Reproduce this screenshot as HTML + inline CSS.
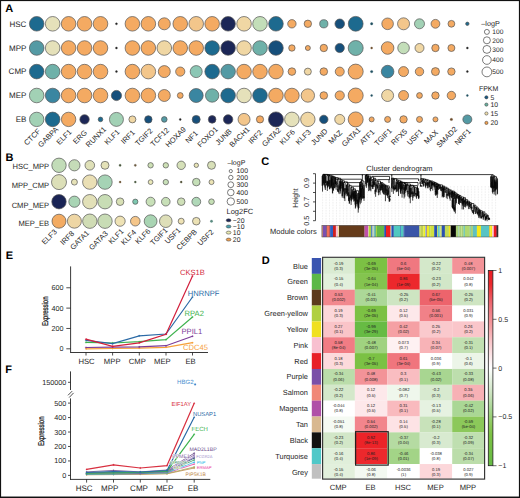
<!DOCTYPE html>
<html><head><meta charset="utf-8"><style>
html,body{margin:0;padding:0;background:#fff;}
body{width:520px;height:498px;overflow:hidden;}
svg{display:block;}
text{font-family:"Liberation Sans", sans-serif;text-rendering:geometricPrecision;}
</style></head><body>
<svg width="520" height="498" viewBox="0 0 520 498">
<rect x="0" y="0" width="520" height="498" fill="#fff"/>
<text x="5.2" y="12.4" font-size="11" text-anchor="start" fill="#000" font-weight="bold">A</text>
<text x="26.4" y="26.5" font-size="8" text-anchor="end" fill="#262626">HSC</text>
<circle cx="36.7" cy="23.8" r="7.3" fill="#1d6a8f" stroke="#555" stroke-width="0.7"/>
<circle cx="52.65" cy="23.8" r="7.3" fill="#e5e1ba" stroke="#555" stroke-width="0.7"/>
<circle cx="68.6" cy="23.8" r="7.3" fill="#f4aa62" stroke="#555" stroke-width="0.7"/>
<circle cx="84.55" cy="23.8" r="7.3" fill="#f4aa62" stroke="#555" stroke-width="0.7"/>
<circle cx="100.5" cy="23.8" r="7.3" fill="#f4aa62" stroke="#555" stroke-width="0.7"/>
<circle cx="116.45" cy="23.8" r="1" fill="#222222" stroke="#222222" stroke-width="0.3"/>
<circle cx="132.4" cy="23.8" r="7.3" fill="#f4aa62" stroke="#555" stroke-width="0.7"/>
<circle cx="148.35" cy="23.8" r="7.3" fill="#f4aa62" stroke="#555" stroke-width="0.7"/>
<circle cx="164.3" cy="23.8" r="6" fill="#f4aa62" stroke="#555" stroke-width="0.7"/>
<circle cx="180.25" cy="23.8" r="7.3" fill="#f4aa62" stroke="#555" stroke-width="0.7"/>
<circle cx="196.2" cy="23.8" r="7.3" fill="#f3c68b" stroke="#555" stroke-width="0.7"/>
<circle cx="212.15" cy="23.8" r="7.3" fill="#f4aa62" stroke="#555" stroke-width="0.7"/>
<circle cx="228.1" cy="23.8" r="7.3" fill="#1c2757" stroke="#555" stroke-width="0.7"/>
<circle cx="244.05" cy="23.8" r="7.3" fill="#f0d7a4" stroke="#555" stroke-width="0.7"/>
<circle cx="260" cy="23.8" r="7.3" fill="#c3deb9" stroke="#555" stroke-width="0.7"/>
<circle cx="275.95" cy="23.8" r="7.3" fill="#1d6a8f" stroke="#555" stroke-width="0.7"/>
<circle cx="291.9" cy="23.8" r="4.2" fill="#f4aa62" stroke="#555" stroke-width="0.7"/>
<circle cx="307.85" cy="23.8" r="3.7" fill="#f4aa62" stroke="#555" stroke-width="0.7"/>
<circle cx="323.8" cy="23.8" r="4.1" fill="#6fb1a9" stroke="#555" stroke-width="0.7"/>
<circle cx="339.75" cy="23.8" r="4.8" fill="#164f7b" stroke="#555" stroke-width="0.7"/>
<circle cx="355.7" cy="23.8" r="7.4" fill="#1d6a8f" stroke="#555" stroke-width="0.7"/>
<circle cx="371.65" cy="23.8" r="1.2" fill="#1f4f5f" stroke="#1f4f5f" stroke-width="0.3"/>
<circle cx="387.6" cy="23.8" r="5.8" fill="#f4aa62" stroke="#555" stroke-width="0.7"/>
<circle cx="403.55" cy="23.8" r="6" fill="#f3c68b" stroke="#555" stroke-width="0.7"/>
<circle cx="419.5" cy="23.8" r="5" fill="#a2d1b5" stroke="#555" stroke-width="0.7"/>
<circle cx="435.45" cy="23.8" r="4.4" fill="#f4aa62" stroke="#555" stroke-width="0.7"/>
<circle cx="451.4" cy="23.8" r="3.4" fill="#f4aa62" stroke="#555" stroke-width="0.7"/>
<circle cx="467.35" cy="23.8" r="1.7" fill="#1d6a8f" stroke="#555" stroke-width="0.7"/>
<text x="26.4" y="50.7" font-size="8" text-anchor="end" fill="#262626">MPP</text>
<circle cx="36.7" cy="48" r="7.3" fill="#549aa4" stroke="#555" stroke-width="0.7"/>
<circle cx="52.65" cy="48" r="7.3" fill="#e5e1ba" stroke="#555" stroke-width="0.7"/>
<circle cx="68.6" cy="48" r="7.3" fill="#f4aa62" stroke="#555" stroke-width="0.7"/>
<circle cx="84.55" cy="48" r="7.3" fill="#f4aa62" stroke="#555" stroke-width="0.7"/>
<circle cx="100.5" cy="48" r="7.3" fill="#f4aa62" stroke="#555" stroke-width="0.7"/>
<circle cx="116.45" cy="48" r="1" fill="#222222" stroke="#222222" stroke-width="0.3"/>
<circle cx="132.4" cy="48" r="7.3" fill="#f4aa62" stroke="#555" stroke-width="0.7"/>
<circle cx="148.35" cy="48" r="7.3" fill="#f4aa62" stroke="#555" stroke-width="0.7"/>
<circle cx="164.3" cy="48" r="7.3" fill="#f0d7a4" stroke="#555" stroke-width="0.7"/>
<circle cx="180.25" cy="48" r="7.3" fill="#f4aa62" stroke="#555" stroke-width="0.7"/>
<circle cx="196.2" cy="48" r="7.3" fill="#f4aa62" stroke="#555" stroke-width="0.7"/>
<circle cx="212.15" cy="48" r="7.3" fill="#1d6a8f" stroke="#555" stroke-width="0.7"/>
<circle cx="228.1" cy="48" r="7.3" fill="#1c2757" stroke="#555" stroke-width="0.7"/>
<circle cx="244.05" cy="48" r="7.3" fill="#f0d7a4" stroke="#555" stroke-width="0.7"/>
<circle cx="260" cy="48" r="7.3" fill="#6fb1a9" stroke="#555" stroke-width="0.7"/>
<circle cx="275.95" cy="48" r="7.3" fill="#164f7b" stroke="#555" stroke-width="0.7"/>
<circle cx="291.9" cy="48" r="3.2" fill="#f4aa62" stroke="#555" stroke-width="0.7"/>
<circle cx="307.85" cy="48" r="2.5" fill="#f4aa62" stroke="#555" stroke-width="0.7"/>
<circle cx="323.8" cy="48" r="3.7" fill="#f4aa62" stroke="#555" stroke-width="0.7"/>
<circle cx="339.75" cy="48" r="4.6" fill="#164f7b" stroke="#555" stroke-width="0.7"/>
<circle cx="355.7" cy="48" r="7.5" fill="#6fb1a9" stroke="#555" stroke-width="0.7"/>
<circle cx="371.65" cy="48" r="1" fill="#6a4a2a" stroke="#6a4a2a" stroke-width="0.3"/>
<circle cx="387.6" cy="48" r="6.3" fill="#f4aa62" stroke="#555" stroke-width="0.7"/>
<circle cx="403.55" cy="48" r="5.8" fill="#c3deb9" stroke="#555" stroke-width="0.7"/>
<circle cx="419.5" cy="48" r="4.5" fill="#f0d7a4" stroke="#555" stroke-width="0.7"/>
<circle cx="435.45" cy="48" r="3.7" fill="#f4aa62" stroke="#555" stroke-width="0.7"/>
<circle cx="451.4" cy="48" r="3.5" fill="#f4aa62" stroke="#555" stroke-width="0.7"/>
<circle cx="467.35" cy="48" r="1" fill="#222222" stroke="#222222" stroke-width="0.3"/>
<text x="26.4" y="74.3" font-size="8" text-anchor="end" fill="#262626">CMP</text>
<circle cx="36.7" cy="71.6" r="7.3" fill="#1d6a8f" stroke="#555" stroke-width="0.7"/>
<circle cx="52.65" cy="71.6" r="7.3" fill="#6fb1a9" stroke="#555" stroke-width="0.7"/>
<circle cx="68.6" cy="71.6" r="7.3" fill="#f4aa62" stroke="#555" stroke-width="0.7"/>
<circle cx="84.55" cy="71.6" r="7.3" fill="#f4aa62" stroke="#555" stroke-width="0.7"/>
<circle cx="100.5" cy="71.6" r="7.3" fill="#f4aa62" stroke="#555" stroke-width="0.7"/>
<circle cx="116.45" cy="71.6" r="1" fill="#222222" stroke="#222222" stroke-width="0.3"/>
<circle cx="132.4" cy="71.6" r="7.3" fill="#f4aa62" stroke="#555" stroke-width="0.7"/>
<circle cx="148.35" cy="71.6" r="7.3" fill="#f3c68b" stroke="#555" stroke-width="0.7"/>
<circle cx="164.3" cy="71.6" r="6" fill="#f4aa62" stroke="#555" stroke-width="0.7"/>
<circle cx="180.25" cy="71.6" r="4.6" fill="#f4aa62" stroke="#555" stroke-width="0.7"/>
<circle cx="196.2" cy="71.6" r="6" fill="#8cc7b5" stroke="#555" stroke-width="0.7"/>
<circle cx="212.15" cy="71.6" r="7.3" fill="#1d6a8f" stroke="#555" stroke-width="0.7"/>
<circle cx="228.1" cy="71.6" r="7.3" fill="#549aa4" stroke="#555" stroke-width="0.7"/>
<circle cx="244.05" cy="71.6" r="7.3" fill="#f4aa62" stroke="#555" stroke-width="0.7"/>
<circle cx="260" cy="71.6" r="7.3" fill="#f4aa62" stroke="#555" stroke-width="0.7"/>
<circle cx="275.95" cy="71.6" r="7.3" fill="#f4aa62" stroke="#555" stroke-width="0.7"/>
<circle cx="291.9" cy="71.6" r="3.8" fill="#f4aa62" stroke="#555" stroke-width="0.7"/>
<circle cx="307.85" cy="71.6" r="3.5" fill="#f0d7a4" stroke="#555" stroke-width="0.7"/>
<circle cx="323.8" cy="71.6" r="3.8" fill="#f4aa62" stroke="#555" stroke-width="0.7"/>
<circle cx="339.75" cy="71.6" r="4.5" fill="#f4aa62" stroke="#555" stroke-width="0.7"/>
<circle cx="355.7" cy="71.6" r="7.5" fill="#f4aa62" stroke="#555" stroke-width="0.7"/>
<circle cx="371.65" cy="71.6" r="1.2" fill="#1f4f5f" stroke="#1f4f5f" stroke-width="0.3"/>
<circle cx="387.6" cy="71.6" r="6.3" fill="#3a86a1" stroke="#555" stroke-width="0.7"/>
<circle cx="403.55" cy="71.6" r="5" fill="#f4aa62" stroke="#555" stroke-width="0.7"/>
<circle cx="419.5" cy="71.6" r="4.2" fill="#f4aa62" stroke="#555" stroke-width="0.7"/>
<circle cx="435.45" cy="71.6" r="4" fill="#f4aa62" stroke="#555" stroke-width="0.7"/>
<circle cx="451.4" cy="71.6" r="3.7" fill="#f4aa62" stroke="#555" stroke-width="0.7"/>
<circle cx="467.35" cy="71.6" r="1" fill="#222222" stroke="#222222" stroke-width="0.3"/>
<text x="26.4" y="98.2" font-size="8" text-anchor="end" fill="#262626">MEP</text>
<circle cx="36.7" cy="95.5" r="7.3" fill="#a2d1b5" stroke="#555" stroke-width="0.7"/>
<circle cx="52.65" cy="95.5" r="7.3" fill="#3a86a1" stroke="#555" stroke-width="0.7"/>
<circle cx="68.6" cy="95.5" r="7.3" fill="#f4aa62" stroke="#555" stroke-width="0.7"/>
<circle cx="84.55" cy="95.5" r="7.3" fill="#f4aa62" stroke="#555" stroke-width="0.7"/>
<circle cx="100.5" cy="95.5" r="7.3" fill="#f4aa62" stroke="#555" stroke-width="0.7"/>
<circle cx="116.45" cy="95.5" r="5.1" fill="#164f7b" stroke="#555" stroke-width="0.7"/>
<circle cx="132.4" cy="95.5" r="7.3" fill="#f4aa62" stroke="#555" stroke-width="0.7"/>
<circle cx="148.35" cy="95.5" r="7.3" fill="#f4aa62" stroke="#555" stroke-width="0.7"/>
<circle cx="164.3" cy="95.5" r="6" fill="#f4aa62" stroke="#555" stroke-width="0.7"/>
<circle cx="180.25" cy="95.5" r="2.9" fill="#f4aa62" stroke="#555" stroke-width="0.7"/>
<circle cx="196.2" cy="95.5" r="7" fill="#3a86a1" stroke="#555" stroke-width="0.7"/>
<circle cx="212.15" cy="95.5" r="6.7" fill="#6fb1a9" stroke="#555" stroke-width="0.7"/>
<circle cx="228.1" cy="95.5" r="7.3" fill="#1d6a8f" stroke="#555" stroke-width="0.7"/>
<circle cx="244.05" cy="95.5" r="7.3" fill="#e5e1ba" stroke="#555" stroke-width="0.7"/>
<circle cx="260" cy="95.5" r="7.3" fill="#1d6a8f" stroke="#555" stroke-width="0.7"/>
<circle cx="275.95" cy="95.5" r="7.3" fill="#f4aa62" stroke="#555" stroke-width="0.7"/>
<circle cx="291.9" cy="95.5" r="7.3" fill="#f4aa62" stroke="#555" stroke-width="0.7"/>
<circle cx="307.85" cy="95.5" r="6.7" fill="#f3c68b" stroke="#555" stroke-width="0.7"/>
<circle cx="323.8" cy="95.5" r="3.8" fill="#f4aa62" stroke="#555" stroke-width="0.7"/>
<circle cx="339.75" cy="95.5" r="4.6" fill="#f4aa62" stroke="#555" stroke-width="0.7"/>
<circle cx="355.7" cy="95.5" r="7.5" fill="#f4aa62" stroke="#555" stroke-width="0.7"/>
<circle cx="371.65" cy="95.5" r="1" fill="#1f4f5f" stroke="#1f4f5f" stroke-width="0.3"/>
<circle cx="387.6" cy="95.5" r="6" fill="#f0d7a4" stroke="#555" stroke-width="0.7"/>
<circle cx="403.55" cy="95.5" r="5" fill="#f4aa62" stroke="#555" stroke-width="0.7"/>
<circle cx="419.5" cy="95.5" r="2.9" fill="#f4aa62" stroke="#555" stroke-width="0.7"/>
<circle cx="435.45" cy="95.5" r="3.7" fill="#f4aa62" stroke="#555" stroke-width="0.7"/>
<circle cx="451.4" cy="95.5" r="4.2" fill="#f4aa62" stroke="#555" stroke-width="0.7"/>
<circle cx="467.35" cy="95.5" r="1" fill="#1f4f5f" stroke="#1f4f5f" stroke-width="0.3"/>
<text x="26.4" y="122.1" font-size="8" text-anchor="end" fill="#262626">EB</text>
<circle cx="36.7" cy="119.4" r="7.2" fill="#a2d1b5" stroke="#555" stroke-width="0.7"/>
<circle cx="52.65" cy="119.4" r="7.3" fill="#1d6a8f" stroke="#555" stroke-width="0.7"/>
<circle cx="68.6" cy="119.4" r="7.2" fill="#f4aa62" stroke="#555" stroke-width="0.7"/>
<circle cx="84.55" cy="119.4" r="4.7" fill="#1c2757" stroke="#555" stroke-width="0.7"/>
<circle cx="100.5" cy="119.4" r="2.3" fill="#1d6a8f" stroke="#555" stroke-width="0.7"/>
<circle cx="116.45" cy="119.4" r="7" fill="#a2d1b5" stroke="#555" stroke-width="0.7"/>
<circle cx="132.4" cy="119.4" r="3.5" fill="#f0d7a4" stroke="#555" stroke-width="0.7"/>
<circle cx="148.35" cy="119.4" r="3.7" fill="#164f7b" stroke="#555" stroke-width="0.7"/>
<circle cx="164.3" cy="119.4" r="2.8" fill="#549aa4" stroke="#555" stroke-width="0.7"/>
<circle cx="180.25" cy="119.4" r="1" fill="#222222" stroke="#222222" stroke-width="0.3"/>
<circle cx="196.2" cy="119.4" r="4" fill="#164f7b" stroke="#555" stroke-width="0.7"/>
<circle cx="212.15" cy="119.4" r="3.8" fill="#1c2757" stroke="#555" stroke-width="0.7"/>
<circle cx="228.1" cy="119.4" r="4.7" fill="#1c2757" stroke="#555" stroke-width="0.7"/>
<circle cx="244.05" cy="119.4" r="6" fill="#f3c68b" stroke="#555" stroke-width="0.7"/>
<circle cx="260" cy="119.4" r="3.6" fill="#f4aa62" stroke="#555" stroke-width="0.7"/>
<circle cx="275.95" cy="119.4" r="7.5" fill="#1c2757" stroke="#555" stroke-width="0.7"/>
<circle cx="291.9" cy="119.4" r="7.3" fill="#e5e1ba" stroke="#555" stroke-width="0.7"/>
<circle cx="307.85" cy="119.4" r="7.2" fill="#f0d7a4" stroke="#555" stroke-width="0.7"/>
<circle cx="323.8" cy="119.4" r="4.2" fill="#164f7b" stroke="#555" stroke-width="0.7"/>
<circle cx="339.75" cy="119.4" r="5" fill="#f0d7a4" stroke="#555" stroke-width="0.7"/>
<circle cx="355.7" cy="119.4" r="7.5" fill="#f4aa62" stroke="#555" stroke-width="0.7"/>
<circle cx="371.65" cy="119.4" r="2.5" fill="#f4aa62" stroke="#555" stroke-width="0.7"/>
<circle cx="387.6" cy="119.4" r="3" fill="#f4aa62" stroke="#555" stroke-width="0.7"/>
<circle cx="403.55" cy="119.4" r="3.7" fill="#f4aa62" stroke="#555" stroke-width="0.7"/>
<circle cx="419.5" cy="119.4" r="3" fill="#f4aa62" stroke="#555" stroke-width="0.7"/>
<circle cx="435.45" cy="119.4" r="2.5" fill="#f4aa62" stroke="#555" stroke-width="0.7"/>
<circle cx="451.4" cy="119.4" r="1.2" fill="#6a4a2a" stroke="#6a4a2a" stroke-width="0.3"/>
<circle cx="467.35" cy="119.4" r="4.5" fill="#549aa4" stroke="#555" stroke-width="0.7"/>
<text x="34" y="138.8" font-size="7.5" text-anchor="middle" fill="#262626" transform="rotate(-45 34 138.8)">CTCF</text>
<text x="49.95" y="138.8" font-size="7.5" text-anchor="middle" fill="#262626" transform="rotate(-45 49.95 138.8)">GABPA</text>
<text x="65.9" y="138.8" font-size="7.5" text-anchor="middle" fill="#262626" transform="rotate(-45 65.9 138.8)">ELF1</text>
<text x="81.85" y="138.8" font-size="7.5" text-anchor="middle" fill="#262626" transform="rotate(-45 81.85 138.8)">ERG</text>
<text x="97.8" y="138.8" font-size="7.5" text-anchor="middle" fill="#262626" transform="rotate(-45 97.8 138.8)">RUNX1</text>
<text x="113.75" y="138.8" font-size="7.5" text-anchor="middle" fill="#262626" transform="rotate(-45 113.75 138.8)">KLF1</text>
<text x="129.7" y="138.8" font-size="7.5" text-anchor="middle" fill="#262626" transform="rotate(-45 129.7 138.8)">IRF1</text>
<text x="145.65" y="138.8" font-size="7.5" text-anchor="middle" fill="#262626" transform="rotate(-45 145.65 138.8)">TGIF2</text>
<text x="161.6" y="138.8" font-size="7.5" text-anchor="middle" fill="#262626" transform="rotate(-45 161.6 138.8)">TCF12</text>
<text x="177.55" y="138.8" font-size="7.5" text-anchor="middle" fill="#262626" transform="rotate(-45 177.55 138.8)">HOXA9</text>
<text x="193.5" y="138.8" font-size="7.5" text-anchor="middle" fill="#262626" transform="rotate(-45 193.5 138.8)">NF1</text>
<text x="209.45" y="138.8" font-size="7.5" text-anchor="middle" fill="#262626" transform="rotate(-45 209.45 138.8)">FOXO1</text>
<text x="225.4" y="138.8" font-size="7.5" text-anchor="middle" fill="#262626" transform="rotate(-45 225.4 138.8)">JUNB</text>
<text x="241.35" y="138.8" font-size="7.5" text-anchor="middle" fill="#262626" transform="rotate(-45 241.35 138.8)">BACH1</text>
<text x="257.3" y="138.8" font-size="7.5" text-anchor="middle" fill="#262626" transform="rotate(-45 257.3 138.8)">IRF2</text>
<text x="273.25" y="138.8" font-size="7.5" text-anchor="middle" fill="#262626" transform="rotate(-45 273.25 138.8)">GATA2</text>
<text x="289.2" y="138.8" font-size="7.5" text-anchor="middle" fill="#262626" transform="rotate(-45 289.2 138.8)">KLF6</text>
<text x="305.15" y="138.8" font-size="7.5" text-anchor="middle" fill="#262626" transform="rotate(-45 305.15 138.8)">KLF3</text>
<text x="321.1" y="138.8" font-size="7.5" text-anchor="middle" fill="#262626" transform="rotate(-45 321.1 138.8)">JUND</text>
<text x="337.05" y="138.8" font-size="7.5" text-anchor="middle" fill="#262626" transform="rotate(-45 337.05 138.8)">MAZ</text>
<text x="353" y="138.8" font-size="7.5" text-anchor="middle" fill="#262626" transform="rotate(-45 353 138.8)">GATA1</text>
<text x="368.95" y="138.8" font-size="7.5" text-anchor="middle" fill="#262626" transform="rotate(-45 368.95 138.8)">ATF1</text>
<text x="384.9" y="138.8" font-size="7.5" text-anchor="middle" fill="#262626" transform="rotate(-45 384.9 138.8)">TGIF1</text>
<text x="400.85" y="138.8" font-size="7.5" text-anchor="middle" fill="#262626" transform="rotate(-45 400.85 138.8)">RFX5</text>
<text x="416.8" y="138.8" font-size="7.5" text-anchor="middle" fill="#262626" transform="rotate(-45 416.8 138.8)">USF1</text>
<text x="432.75" y="138.8" font-size="7.5" text-anchor="middle" fill="#262626" transform="rotate(-45 432.75 138.8)">MAX</text>
<text x="448.7" y="138.8" font-size="7.5" text-anchor="middle" fill="#262626" transform="rotate(-45 448.7 138.8)">SMAD2</text>
<text x="464.65" y="138.8" font-size="7.5" text-anchor="middle" fill="#262626" transform="rotate(-45 464.65 138.8)">NRF1</text>
<text x="481.3" y="26.3" font-size="7.2" text-anchor="start" fill="#262626">&#8211;logP</text>
<circle cx="486.9" cy="31.9" r="2.5" fill="none" stroke="#444" stroke-width="0.7"/>
<text x="492.3" y="34.2" font-size="6.6" text-anchor="start" fill="#262626">100</text>
<circle cx="486.9" cy="40.3" r="3.5" fill="none" stroke="#444" stroke-width="0.7"/>
<text x="492.3" y="42.6" font-size="6.6" text-anchor="start" fill="#262626">200</text>
<circle cx="486.9" cy="49.4" r="3.95" fill="none" stroke="#444" stroke-width="0.7"/>
<text x="492.3" y="51.7" font-size="6.6" text-anchor="start" fill="#262626">300</text>
<circle cx="486.9" cy="60" r="4.35" fill="none" stroke="#444" stroke-width="0.7"/>
<text x="492.3" y="62.3" font-size="6.6" text-anchor="start" fill="#262626">400</text>
<circle cx="486.9" cy="71.9" r="4.9" fill="none" stroke="#444" stroke-width="0.7"/>
<text x="492.3" y="74.2" font-size="6.6" text-anchor="start" fill="#262626">500</text>
<text x="478.9" y="91" font-size="7" text-anchor="start" fill="#262626">FPKM</text>
<circle cx="486.4" cy="97.3" r="1.6" fill="#1a5a85" stroke="#333" stroke-width="0.5"/>
<text x="490.6" y="99.7" font-size="6.8" text-anchor="start" fill="#262626">5</text>
<circle cx="486.4" cy="104.6" r="1.6" fill="#6ab0a0" stroke="#333" stroke-width="0.5"/>
<text x="490.6" y="107" font-size="6.8" text-anchor="start" fill="#262626">10</text>
<circle cx="486.4" cy="113.5" r="1.6" fill="#ecdcaa" stroke="#333" stroke-width="0.5"/>
<text x="490.6" y="115.9" font-size="6.8" text-anchor="start" fill="#262626">15</text>
<circle cx="486.4" cy="122.9" r="1.6" fill="#f0a050" stroke="#333" stroke-width="0.5"/>
<text x="490.6" y="125.3" font-size="6.8" text-anchor="start" fill="#262626">20</text>
<text x="5.6" y="160.8" font-size="11" text-anchor="start" fill="#000" font-weight="bold">B</text>
<text x="49.2" y="169.3" font-size="7.6" text-anchor="end" fill="#262626">HSC_MPP</text>
<circle cx="59" cy="165.3" r="7.2" fill="#c2dcb8" stroke="#555" stroke-width="0.7"/>
<circle cx="74.4" cy="165.3" r="5.6" fill="#c5dcb8" stroke="#555" stroke-width="0.7"/>
<circle cx="89.8" cy="165.3" r="4.8" fill="#dfe0b8" stroke="#555" stroke-width="0.7"/>
<circle cx="105" cy="165.3" r="4" fill="#e4e2b8" stroke="#555" stroke-width="0.7"/>
<circle cx="120.1" cy="165.3" r="1.1" fill="#4a5a40" stroke="#4a5a40" stroke-width="0.3"/>
<circle cx="135.3" cy="165.3" r="1.1" fill="#6a5a40" stroke="#6a5a40" stroke-width="0.3"/>
<circle cx="150.6" cy="165.3" r="2.7" fill="#cde0b5" stroke="#555" stroke-width="0.7"/>
<circle cx="165.8" cy="165.3" r="2.7" fill="#cde0b5" stroke="#555" stroke-width="0.7"/>
<circle cx="181.2" cy="165.3" r="4.2" fill="#d5e0b8" stroke="#555" stroke-width="0.7"/>
<circle cx="196.3" cy="165.3" r="2.2" fill="#e8e4b5" stroke="#555" stroke-width="0.7"/>
<circle cx="211.5" cy="165.3" r="4" fill="#d8e0b8" stroke="#555" stroke-width="0.7"/>
<text x="49.2" y="188.4" font-size="7.6" text-anchor="end" fill="#262626">MPP_CMP</text>
<circle cx="59" cy="182.1" r="7.5" fill="#dcdfb8" stroke="#555" stroke-width="0.7"/>
<circle cx="74.4" cy="182.1" r="3" fill="#e6e2b8" stroke="#555" stroke-width="0.7"/>
<circle cx="89.8" cy="182.1" r="7.2" fill="#eadfb5" stroke="#555" stroke-width="0.7"/>
<circle cx="105" cy="182.1" r="7.2" fill="#a5d3b5" stroke="#555" stroke-width="0.7"/>
<circle cx="120.1" cy="182.1" r="1" fill="#6a5030" stroke="#6a5030" stroke-width="0.3"/>
<circle cx="135.3" cy="182.1" r="1" fill="#4a5a40" stroke="#4a5a40" stroke-width="0.3"/>
<circle cx="150.6" cy="182.1" r="2.4" fill="#eae8b8" stroke="#555" stroke-width="0.7"/>
<circle cx="165.8" cy="182.1" r="2.7" fill="#c8e0b8" stroke="#555" stroke-width="0.7"/>
<circle cx="181.2" cy="182.1" r="1" fill="#4a4a30" stroke="#4a4a30" stroke-width="0.3"/>
<circle cx="196.3" cy="182.1" r="3.8" fill="#c5dfb8" stroke="#555" stroke-width="0.7"/>
<circle cx="211.5" cy="182.1" r="2.5" fill="#ece4b5" stroke="#555" stroke-width="0.7"/>
<text x="49.2" y="207.7" font-size="7.6" text-anchor="end" fill="#262626">CMP_MEP</text>
<circle cx="59" cy="201.7" r="7.2" fill="#1a2455" stroke="#555" stroke-width="0.7"/>
<circle cx="74.4" cy="201.7" r="5.6" fill="#a8d4b4" stroke="#555" stroke-width="0.7"/>
<circle cx="89.8" cy="201.7" r="7.2" fill="#e2e0b8" stroke="#555" stroke-width="0.7"/>
<circle cx="105" cy="201.7" r="7.2" fill="#c8ddb5" stroke="#555" stroke-width="0.7"/>
<circle cx="120.1" cy="201.7" r="3.8" fill="#d8e0b5" stroke="#555" stroke-width="0.7"/>
<circle cx="135.3" cy="201.7" r="2.6" fill="#7ec8b0" stroke="#555" stroke-width="0.7"/>
<circle cx="150.6" cy="201.7" r="4.5" fill="#c8e0b8" stroke="#555" stroke-width="0.7"/>
<circle cx="165.8" cy="201.7" r="4.3" fill="#c8e0b8" stroke="#555" stroke-width="0.7"/>
<circle cx="181.2" cy="201.7" r="3.8" fill="#cfe0b8" stroke="#555" stroke-width="0.7"/>
<circle cx="196.3" cy="201.7" r="4.4" fill="#b0d8b8" stroke="#555" stroke-width="0.7"/>
<circle cx="211.5" cy="201.7" r="2.8" fill="#c5dfb5" stroke="#555" stroke-width="0.7"/>
<text x="49.2" y="225.5" font-size="7.6" text-anchor="end" fill="#262626">MEP_EB</text>
<circle cx="59" cy="221.2" r="7" fill="#f3ab62" stroke="#555" stroke-width="0.7"/>
<circle cx="74.4" cy="221.2" r="7" fill="#eed6a4" stroke="#555" stroke-width="0.7"/>
<circle cx="89.8" cy="221.2" r="7.2" fill="#d0dcb5" stroke="#555" stroke-width="0.7"/>
<circle cx="105" cy="221.2" r="7.2" fill="#c8dcb5" stroke="#555" stroke-width="0.7"/>
<circle cx="120.1" cy="221.2" r="5.1" fill="#eee2b5" stroke="#555" stroke-width="0.7"/>
<circle cx="135.3" cy="221.2" r="4.8" fill="#f5c68a" stroke="#555" stroke-width="0.7"/>
<circle cx="150.6" cy="221.2" r="6.4" fill="#a9d4b3" stroke="#555" stroke-width="0.7"/>
<circle cx="165.8" cy="221.2" r="6.3" fill="#dedfb8" stroke="#555" stroke-width="0.7"/>
<circle cx="181.2" cy="221.2" r="3" fill="#eee2b5" stroke="#555" stroke-width="0.7"/>
<circle cx="196.3" cy="221.2" r="3.8" fill="#ece2b5" stroke="#555" stroke-width="0.7"/>
<circle cx="211.5" cy="221.2" r="1.2" fill="#5a8a80" stroke="#5a8a80" stroke-width="0.3"/>
<text x="57.5" y="232.3" font-size="7.5" text-anchor="end" fill="#262626" transform="rotate(-45 57.5 232.3)">ELF3</text>
<text x="74.8" y="234" font-size="7.5" text-anchor="end" fill="#262626" transform="rotate(-45 74.8 234)">IRF8</text>
<text x="89.8" y="233.6" font-size="7.5" text-anchor="end" fill="#262626" transform="rotate(-45 89.8 233.6)">GATA1</text>
<text x="108.5" y="234" font-size="7.5" text-anchor="end" fill="#262626" transform="rotate(-45 108.5 234)">GATA3</text>
<text x="124.1" y="231.8" font-size="7.5" text-anchor="end" fill="#262626" transform="rotate(-45 124.1 231.8)">KLF1</text>
<text x="136.8" y="232.8" font-size="7.5" text-anchor="end" fill="#262626" transform="rotate(-45 136.8 232.8)">KLF4</text>
<text x="150.9" y="231.7" font-size="7.5" text-anchor="end" fill="#262626" transform="rotate(-45 150.9 231.7)">KLF6</text>
<text x="168.2" y="230.7" font-size="7.5" text-anchor="end" fill="#262626" transform="rotate(-45 168.2 230.7)">TGIF1</text>
<text x="181.2" y="230.7" font-size="7.5" text-anchor="end" fill="#262626" transform="rotate(-45 181.2 230.7)">USF1</text>
<text x="197.6" y="232.5" font-size="7.5" text-anchor="end" fill="#262626" transform="rotate(-45 197.6 232.5)">CEBPB</text>
<text x="214.1" y="232.5" font-size="7.5" text-anchor="end" fill="#262626" transform="rotate(-45 214.1 232.5)">USF2</text>
<text x="227.4" y="165.4" font-size="7" text-anchor="start" fill="#262626">&#8211;logP</text>
<circle cx="230.8" cy="171.1" r="1.6" fill="none" stroke="#444" stroke-width="0.7"/>
<text x="236.6" y="173.4" font-size="6.8" text-anchor="start" fill="#262626">100</text>
<circle cx="230.8" cy="177.5" r="2.2" fill="none" stroke="#444" stroke-width="0.7"/>
<text x="236.6" y="179.8" font-size="6.8" text-anchor="start" fill="#262626">200</text>
<circle cx="230.8" cy="184.7" r="2.9" fill="none" stroke="#444" stroke-width="0.7"/>
<text x="236.6" y="187" font-size="6.8" text-anchor="start" fill="#262626">300</text>
<circle cx="230.8" cy="192.5" r="3.3" fill="none" stroke="#444" stroke-width="0.7"/>
<text x="236.6" y="194.8" font-size="6.8" text-anchor="start" fill="#262626">400</text>
<circle cx="230.8" cy="201.5" r="3.7" fill="none" stroke="#444" stroke-width="0.7"/>
<text x="236.6" y="203.8" font-size="6.8" text-anchor="start" fill="#262626">500</text>
<text x="226.5" y="213.9" font-size="7.5" text-anchor="start" fill="#262626">Log2FC</text>
<ellipse cx="228.6" cy="220.3" rx="2.4" ry="1.5" fill="#1a2455" stroke="#333" stroke-width="0.5"/>
<text x="232.8" y="222.5" font-size="6.9" text-anchor="start" fill="#262626">&#8722;20</text>
<ellipse cx="228.6" cy="226.5" rx="2.4" ry="1.5" fill="#4aa0b0" stroke="#333" stroke-width="0.5"/>
<text x="232.8" y="228.7" font-size="6.9" text-anchor="start" fill="#262626">&#8722;10</text>
<ellipse cx="228.6" cy="232.6" rx="2.4" ry="1.5" fill="#e8e8b0" stroke="#333" stroke-width="0.5"/>
<text x="232.8" y="234.8" font-size="6.9" text-anchor="start" fill="#262626">10</text>
<ellipse cx="228.6" cy="239.6" rx="2.4" ry="1.5" fill="#f0a050" stroke="#333" stroke-width="0.5"/>
<text x="232.8" y="241.8" font-size="6.9" text-anchor="start" fill="#262626">20</text>
<text x="261.3" y="165" font-size="11" text-anchor="start" fill="#000" font-weight="bold">C</text>
<text x="366.3" y="170.8" font-size="7.5" text-anchor="start" fill="#262626">Cluster dendrogram</text>
<line x1="315.5" y1="173.7" x2="315.5" y2="220.7" stroke="#222" stroke-width="0.8"/>
<line x1="313" y1="220.7" x2="315.5" y2="220.7" stroke="#222" stroke-width="0.8"/>
<line x1="313" y1="211.3" x2="315.5" y2="211.3" stroke="#222" stroke-width="0.8"/>
<line x1="313" y1="201.9" x2="315.5" y2="201.9" stroke="#222" stroke-width="0.8"/>
<line x1="313" y1="192.5" x2="315.5" y2="192.5" stroke="#222" stroke-width="0.8"/>
<line x1="313" y1="183.1" x2="315.5" y2="183.1" stroke="#222" stroke-width="0.8"/>
<line x1="313" y1="173.7" x2="315.5" y2="173.7" stroke="#222" stroke-width="0.8"/>
<text x="309.4" y="220.7" font-size="7.2" text-anchor="middle" fill="#262626" transform="rotate(-90 309.4 220.7)">0.5</text>
<text x="309.4" y="201.9" font-size="7.2" text-anchor="middle" fill="#262626" transform="rotate(-90 309.4 201.9)">0.7</text>
<text x="309.4" y="183.1" font-size="7.2" text-anchor="middle" fill="#262626" transform="rotate(-90 309.4 183.1)">0.9</text>
<text x="0" y="0" font-size="7.6" text-anchor="middle" fill="#262626" transform="translate(298.2 198.0) rotate(-90) scale(0.88 1)">Height</text>
<text x="316.8" y="234.2" font-size="7.5" text-anchor="end" fill="#262626">Module colors</text>
<rect x="321.9" y="225.3" width="1.15" height="11.7" fill="#c88878"/>
<rect x="323" y="225.3" width="3.05" height="11.7" fill="#7a50b0"/>
<rect x="326" y="225.3" width="0.85" height="11.7" fill="#5a4070"/>
<rect x="326.8" y="225.3" width="2.65" height="11.7" fill="#f07058"/>
<rect x="329.4" y="225.3" width="0.75" height="11.7" fill="#a01828"/>
<rect x="330.1" y="225.3" width="2.95" height="11.7" fill="#3060c0"/>
<rect x="333" y="225.3" width="2.95" height="11.7" fill="#d02020"/>
<rect x="335.9" y="225.3" width="2.15" height="11.7" fill="#f8c0d0"/>
<rect x="338" y="225.3" width="1.05" height="11.7" fill="#f0e0a0"/>
<rect x="339" y="225.3" width="25.65" height="11.7" fill="#653b1a"/>
<rect x="364.6" y="225.3" width="3.75" height="11.7" fill="#c050a8"/>
<rect x="368.3" y="225.3" width="0.65" height="11.7" fill="#d0d0a0"/>
<rect x="368.9" y="225.3" width="2.05" height="11.7" fill="#b8d838"/>
<rect x="370.9" y="225.3" width="0.95" height="11.7" fill="#3a60b0"/>
<rect x="371.8" y="225.3" width="0.95" height="11.7" fill="#60c0d0"/>
<rect x="372.7" y="225.3" width="0.85" height="11.7" fill="#f0b080"/>
<rect x="373.5" y="225.3" width="0.95" height="11.7" fill="#90d0d0"/>
<rect x="374.4" y="225.3" width="1.45" height="11.7" fill="#40a0a0"/>
<rect x="375.8" y="225.3" width="1.25" height="11.7" fill="#a8d040"/>
<rect x="377" y="225.3" width="7.25" height="11.7" fill="#64b848"/>
<rect x="384.2" y="225.3" width="1.85" height="11.7" fill="#2a50b0"/>
<rect x="386" y="225.3" width="4.35" height="11.7" fill="#ee2020"/>
<rect x="390.3" y="225.3" width="0.65" height="11.7" fill="#f08050"/>
<rect x="390.9" y="225.3" width="0.9" height="11.7" fill="#60a0d0"/>
<rect x="391.75" y="225.3" width="2.1" height="11.7" fill="#2a50b0"/>
<rect x="393.8" y="225.3" width="6.35" height="11.7" fill="#50c8c0"/>
<rect x="400.1" y="225.3" width="0.95" height="11.7" fill="#4080c0"/>
<rect x="401" y="225.3" width="2.65" height="11.7" fill="#50c8c0"/>
<rect x="403.6" y="225.3" width="1.15" height="11.7" fill="#2040a0"/>
<rect x="404.7" y="225.3" width="14.85" height="11.7" fill="#3a55a8"/>
<rect x="419.5" y="225.3" width="0.85" height="11.7" fill="#c8e040"/>
<rect x="420.3" y="225.3" width="3.25" height="11.7" fill="#c0d050"/>
<rect x="423.5" y="225.3" width="1.85" height="11.7" fill="#f0f020"/>
<rect x="425.3" y="225.3" width="0.85" height="11.7" fill="#80b0d0"/>
<rect x="426.1" y="225.3" width="0.75" height="11.7" fill="#8050a0"/>
<rect x="426.8" y="225.3" width="2.25" height="11.7" fill="#f0e820"/>
<rect x="429" y="225.3" width="1.25" height="11.7" fill="#b0d860"/>
<rect x="430.2" y="225.3" width="4.05" height="11.7" fill="#d0e040"/>
<rect x="434.2" y="225.3" width="2.95" height="11.7" fill="#2a50b0"/>
<rect x="437.1" y="225.3" width="1.15" height="11.7" fill="#c0d858"/>
<rect x="438.2" y="225.3" width="1.55" height="11.7" fill="#40c8c8"/>
<rect x="439.7" y="225.3" width="1.45" height="11.7" fill="#d0e080"/>
<rect x="441.1" y="225.3" width="0.65" height="11.7" fill="#c0d858"/>
<rect x="441.7" y="225.3" width="3.25" height="11.7" fill="#2a50b0"/>
<rect x="444.9" y="225.3" width="4.05" height="11.7" fill="#c0d858"/>
<rect x="448.9" y="225.3" width="1.45" height="11.7" fill="#f5e61e"/>
<rect x="450.3" y="225.3" width="0.45" height="11.7" fill="#e0e0a0"/>
<rect x="450.7" y="225.3" width="5.25" height="11.7" fill="#050505"/>
<rect x="455.9" y="225.3" width="2.65" height="11.7" fill="#a8d078"/>
<rect x="458.5" y="225.3" width="0.75" height="11.7" fill="#80c8a8"/>
<rect x="459.2" y="225.3" width="1.85" height="11.7" fill="#a8d078"/>
<rect x="461" y="225.3" width="0.65" height="11.7" fill="#c8e070"/>
<rect x="461.6" y="225.3" width="2.15" height="11.7" fill="#a8d078"/>
<rect x="463.7" y="225.3" width="1.15" height="11.7" fill="#50c0c0"/>
<rect x="464.8" y="225.3" width="5.05" height="11.7" fill="#b0d870"/>
<rect x="469.8" y="225.3" width="1.05" height="11.7" fill="#70c4b0"/>
<rect x="470.8" y="225.3" width="2.15" height="11.7" fill="#a8d078"/>
<rect x="472.9" y="225.3" width="4.05" height="11.7" fill="#60c0c0"/>
<rect x="476.9" y="225.3" width="4.05" height="11.7" fill="#f8e818"/>
<rect x="480.9" y="225.3" width="8.35" height="11.7" fill="#58c4c4"/>
<rect x="489.2" y="225.3" width="1.05" height="11.7" fill="#e0c010"/>
<rect x="490.2" y="225.3" width="2.15" height="11.7" fill="#f8e818"/>
<rect x="492.3" y="225.3" width="1.55" height="11.7" fill="#f8c0d0"/>
<rect x="493.8" y="225.3" width="2.55" height="11.7" fill="#ee1c24"/>
<rect x="496.3" y="225.3" width="0.95" height="11.7" fill="#600010"/>
<rect x="497.2" y="225.3" width="0.85" height="11.7" fill="#000000"/>
<rect x="321.9" y="225.3" width="176.1" height="11.7" fill="none" stroke="#444" stroke-width="0.5"/>
<path d="M322.6 186V223.5M326.06 186V223.5M329.52 186V223.5M332.98 186V223.5M336.44 186V223.5M339.9 186V223.5M343.36 186V223.5M346.82 186V223.5M350.28 186V223.5M353.74 186V223.5M357.2 186V223.5M360.66 186V223.5M364.12 186V223.5M367.58 186V223.5M371.04 186V223.5M374.5 186V223.5M377.96 186V223.5M381.42 186V223.5M384.88 186V223.5M388.34 186V223.5M391.8 186V223.5M395.26 186V223.5M398.72 186V223.5M402.18 186V223.5M405.64 186V223.5M409.1 186V223.5M412.56 186V223.5M416.02 186V223.5M419.48 186V223.5M422.94 186V223.5M426.4 186V223.5M429.86 186V223.5M433.32 186V223.5M436.78 186V223.5M440.24 186V223.5M443.7 186V223.5M447.16 186V223.5M450.62 186V223.5M454.08 186V223.5M457.54 186V223.5M461 186V223.5M464.46 186V223.5M467.92 186V223.5M471.38 186V223.5M474.84 186V223.5M478.3 186V223.5M481.76 186V223.5M485.22 186V223.5M488.68 186V223.5M492.14 186V223.5M495.6 186V223.5" stroke="#d0d0d0" stroke-width="0.5" stroke-dasharray="0.7 0.9" fill="none"/>
<path d="M322.13 179.47V185.74M322.53 175.93V191.64M322.13 179.47V175.93H322.53V175.93M322.91 180.05V185.76M323.24 177.12V184.6M322.91 180.05V177.12H323.24V177.12M322.33 175.93V175.88H323.08V177.12M323.57 175.9V183.21M322.7 175.88V174.9H323.57V175.9M324.04 175.98V185.01M324.41 179.88V184.42M324.72 176.23V186.61M324.41 179.88V175H324.72V176.23M325.05 184.56V188.41M325.33 184.47V190.01M325.05 184.56V184.43H325.33V184.47M325.5 180.82V183.19M325.19 184.43V176.59H325.5V180.82M325.8 175.94V183.13M325.35 176.59V175.81H325.8V175.94M324.56 175V175H325.57V175.81M324.04 175.98V175H325.07V175M326.3 184.51V185.51M326.64 184.36V185.36M326.3 184.51V184.36H326.64V184.36M326.97 181.63V184.72M327.3 181.86V191.01M327.6 184.95V187.69M327.3 181.86V181.86H327.6V184.95M327.97 181.94V187.24M327.45 181.86V181.85H327.97V181.94M326.97 181.63V181.63H327.71V181.85M326.47 184.36V180.94H327.34V181.63M328.22 178.44V184.4M328.52 175.31V186.34M328.22 178.44V175.3H328.52V175.31M326.91 180.94V175.3H328.37V175.3M328.86 184.8V185.8M329.19 182.84V183.95M328.86 184.8V182.8H329.19V182.84M329.51 180.44V189.15M329.85 183.39V189.26M329.51 180.44V180.32H329.85V183.39M330.33 185.02V188.16M329.68 180.32V180.32H330.33V185.02M329.02 182.8V175.88H330V180.32M330.77 178.2V187.31M331.19 178.03V187.8M331.49 178V185.81M331.19 178.03V177.97H331.49V178M331.66 178.18V186.61M331.34 177.97V176.89H331.66V178.18M330.77 178.2V176.4H331.5V176.89M331.85 178.96V187.65M332.13 186.98V189.2M332.41 189.86V193.16M332.13 186.98V186.9H332.41V189.86M331.85 178.96V178.96H332.27V186.9M332.66 177.61V193.47M332.06 178.96V176.87H332.66V177.61M332.97 183.6V185.26M332.36 176.87V176.79H332.97V183.6M333.24 185.65V189.99M333.55 182.48V190.83M333.24 185.65V182.43H333.55V182.48M334 179.16V187.81M333.39 182.43V177.3H334V179.16M334.5 179.2V188.34M334.98 185.95V187.91M335.3 179.58V183.99M334.98 185.95V177.77H335.3V179.58M334.5 179.2V177.75H335.14V177.77M335.52 183.1V184.1M335.77 182.83V186.8M336.03 188.63V189.63M336.43 181.89V185.26M336.03 188.63V181.88H336.43V181.89M335.77 182.83V181.14H336.23V181.88M335.52 183.1V178.23H336V181.14M336.93 185.81V186.81M337.29 188.32V190.48M336.93 185.81V185.5H337.29V188.32M337.55 189.7V190.7M337.85 190.95V191.95M337.55 189.7V189.69H337.85V190.95M338.19 190.42V192M337.7 189.69V189.43H338.19V190.42M337.11 185.5V183.69H337.95V189.43M338.64 188.03V192.63M339.08 186.39V194.1M339.38 187.63V188.63M339.08 186.39V186.39H339.38V187.63M338.64 188.03V185.52H339.23V186.39M337.53 183.69V178.82H338.94V185.52M339.64 183.32V190.4M340.03 183.74V188.66M340.31 182.23V193.67M340.03 183.74V181.51H340.31V182.23M339.64 183.32V181.44H340.17V181.51M340.53 181.32V191.31M339.91 181.44V181.32H340.53V181.32M340.8 182.66V188.95M341.18 185.29V186.29M340.8 182.66V182.05H341.18V185.29M340.22 181.32V180.26H340.99V182.05M341.67 186.21V188.38M342.02 184.83V196.24M341.67 186.21V181.41H342.02V184.83M342.28 183.39V197.73M342.62 184.87V195.89M342.99 183.54V188.54M342.62 184.87V182.7H342.99V183.54M342.28 183.39V182.53H342.8V182.7M341.85 181.41V181.39H342.54V182.53M343.28 184.69V190.42M343.55 183.93V191.67M343.83 183.94V198.25M343.55 183.93V183.93H343.83V183.94M343.28 184.69V182.49H343.69V183.93M344.1 190.29V193.76M344.5 192.68V198.43M344.86 193.13V201.05M344.5 192.68V192.64H344.86V193.13M345.24 194.35V195.35M344.68 192.64V189.39H345.24V194.35M344.1 190.29V188.82H344.96V189.39M345.7 188.78V193.35M346.04 188.82V189.82M345.7 188.78V188.75H346.04V188.82M344.53 188.82V188.74H345.87V188.75M343.49 182.49V182.49H345.2V188.74M346.35 190.38V192.71M346.66 185.56V194.1M346.35 190.38V185.1H346.66V185.56M346.98 185.97V196.37M346.5 185.1V185.08H346.98V185.97M347.33 192.91V195.71M346.74 185.08V185.07H347.33V192.91M347.67 190.58V195.37M348.02 188.67V191.19M347.67 190.58V188.62H348.02V188.67M347.03 185.07V184.49H347.84V188.62M348.32 195.55V196.55M348.62 196.13V201.18M348.32 195.55V192.91H348.62V196.13M348.87 195.36V199.66M348.47 192.91V192.14H348.87V195.36M349.04 200V201M349.23 198V203.72M349.55 199.92V203.46M349.23 198V197.84H349.55V199.92M349.04 200V197.84H349.39V197.84M349.95 197.33V198.33M350.31 197.19V198.19M349.95 197.33V195.71H350.31V197.19M349.21 197.84V195.28H350.13V195.71M348.67 192.14V185.99H349.67V195.28M350.74 187.88V200.38M351.13 198.01V204.94M351.47 199.35V201.36M351.13 198.01V193.49H351.47V199.35M351.8 192.22V199.83M351.3 193.49V191.97H351.8V192.22M352.2 190.45V198.81M351.55 191.97V189.33H352.2V190.45M350.74 187.88V187.79H351.88V189.33M352.6 195.63V196.63M352.9 192.84V199.53M353.2 193.92V197.92M352.9 192.84V192.84H353.2V193.92M353.45 192.52V198.81M353.05 192.84V191.58H353.45V192.52M352.6 195.63V190.48H353.25V191.58M353.78 192.06V201.66M354.19 196.21V200.34M354.52 191.79V198.21M354.19 196.21V191.23H354.52V191.79M353.78 192.06V191.22H354.35V191.23M352.92 190.48V189.44H354.07V191.22M354.72 195.44V201.2M355.03 197.66V204.64M354.72 195.44V195.38H355.03V197.66M355.37 192.72V208.6M355.67 192.4V207.62M356 192.07V206.33M355.67 192.4V191.51H356V192.07M355.37 192.72V191.34H355.84V191.51M356.27 194.81V204.14M356.61 196.37V201.52M356.27 194.81V194.75H356.61V196.37M355.6 191.34V191.33H356.44V194.75M354.87 195.38V191.33H356.02V191.33M357.11 203.28V204.28M357.54 200.27V203.56M357.83 200.18V207.56M357.54 200.27V200.17H357.83V200.18M358.05 200.25V205.57M357.69 200.17V200.16H358.05V200.25M357.11 203.28V200.09H357.87V200.16M358.23 194.48V212.65M358.53 196.9V209.46M358.23 194.48V193.84H358.53V196.9M357.49 200.09V193.53H358.38V193.84M358.97 201.91V208.09M359.35 201.41V202.41M358.97 201.91V196.65H359.35V201.41M357.93 193.53V193.4H359.16V196.65M355.45 191.33V190.73H358.55V193.4M353.49 189.44V188.84H355.45V191.33M351.31 187.79V187.19H353.49V189.44M349.17 185.99V185.39H351.31V187.79M347.44 184.49V183.89H349.17V185.99M344.34 182.49V181.89H347.44V184.49M342.2 181.39V180.79H344.34V182.49M340.61 180.26V179.66H342.2V181.39M338.23 178.82V178.22H340.61V180.26M335.76 178.23V177.63H338.23V178.82M334.82 177.75V177.15H335.76V178.23M333.7 177.3V176.7H334.82V177.75M332.66 176.79V176.19H333.7V177.3M331.14 176.4V175.8H332.66V176.79M329.51 175.88V175.28H331.14V176.4M327.64 175.3V174.7H329.51V175.88M324.55 175V174.4H327.64V175.3M323.14 174.9V174.3H324.55V175M323.14 174.6V174.9M359.62 184.56V199.59M359.85 184.26V197.89M360.2 192.93V204.3M360.49 184.29V197.26M360.2 192.93V184.28H360.49V184.29M359.85 184.26V184.19H360.34V184.28M359.62 184.56V182.59H360.1V184.19M360.81 189.08V199.37M361.13 191.56V202.77M361.42 193.81V200.4M361.13 191.56V188.56H361.42V193.81M360.81 189.08V187.83H361.27V188.56M361.76 185.27V197.59M362.14 183.78V198.12M361.76 185.27V183.78H362.14V183.78M362.63 183.1V198.7M361.95 183.78V183.01H362.63V183.1M361.04 187.83V182.6H362.29V183.01M359.86 182.59V182.59H361.66V182.6M363.08 188.97V198.46M363.43 195.32V198.26M363.08 188.97V188.82H363.43V195.32M363.74 196.68V197.68M364.01 199.83V200.83M363.74 196.68V196.35H364.01V199.83M363.26 188.82V187.64H363.88V196.35M364.35 185.72V198.32M363.57 187.64V185.03H364.35V185.72M360.76 182.59V181H363.96V185.03M362.36 174.6V181M365.23 176.96V179.56M365.61 175.5V184.08M365.23 176.96V175.4H365.61V175.5M365.94 178.2V186.38M366.35 177.39V187.88M365.94 178.2V175.8H366.35V177.39M365.42 175.4V175.4H366.15V175.8M366.85 184.21V185.21M367.22 177.7V181.52M366.85 184.21V177.7H367.22V177.7M367.44 177.64V182.99M367.03 177.7V175.7H367.44V177.64M365.78 175.4V175.4H367.24V175.7M367.63 181.08V182.08M367.92 178.24V182.01M367.63 181.08V177.09H367.92V178.24M368.33 184.73V185.73M368.66 185.56V191.12M368.33 184.73V184.73H368.66V185.56M368.98 178.48V187.43M369.27 178.93V181.51M368.98 178.48V178.46H369.27V178.93M368.5 184.73V176.75H369.12V178.46M367.77 177.09V176.74H368.81V176.75M369.51 179.78V185.49M369.79 179.65V190.35M369.51 179.78V179.65H369.79V179.65M370.09 178.79V190.32M369.65 179.65V178.62H370.09V178.79M370.53 178.93V186.33M370.91 183.66V191.31M370.53 178.93V178.47H370.91V183.66M369.87 178.62V178.29H370.72V178.47M371.3 178.61V181.18M370.3 178.29V177.7H371.3V178.61M371.69 185.56V186.56M371.91 185.8V186.8M372.17 185.72V186.72M372.45 185.44V188.9M372.17 185.72V185.36H372.45V185.44M371.91 185.8V185.35H372.31V185.36M371.69 185.56V184.96H372.11V185.35M372.7 183.57V187.16M371.9 184.96V182.17H372.7V183.57M373.04 180.42V189.02M372.3 182.17V179.62H373.04V180.42M373.47 180.58V185.5M372.67 179.62V179.51H373.47V180.58M373.78 186.05V187.05M374.07 184.37V186.76M373.78 186.05V182.06H374.07V184.37M374.36 179.64V185.28M373.92 182.06V179.57H374.36V179.64M373.07 179.51V178.88H374.14V179.57M374.65 182.64V185.16M374.98 190.13V194.16M375.3 190.88V191.9M374.98 190.13V189.88H375.3V190.88M375.64 189.88V196.81M375.14 189.88V189.88H375.64V189.88M374.65 182.64V182.55H375.39V189.88M375.89 186.08V191.49M376.19 185.48V192.29M376.59 184.85V186.36M376.19 185.48V184.81H376.59V184.85M375.89 186.08V183.84H376.39V184.81M375.02 182.55V180.42H376.14V183.84M377.06 185.12V189.6M377.42 185.5V188.08M377.06 185.12V185.08H377.42V185.5M377.71 186.55V188.68M378.12 188.16V192.56M377.71 186.55V185.58H378.12V188.16M378.6 189.5V195.29M378.92 191.51V192.51M379.25 191.23V192.23M378.92 191.51V191.09H379.25V191.23M378.6 189.5V189.5H379.08V191.09M377.91 185.58V183.6H378.84V189.5M377.24 185.08V181.68H378.38V183.6M379.65 186.82V190.19M380.07 187.11V194.65M379.65 186.82V185.04H380.07V187.11M380.42 188.48V190.38M380.78 187.43V190.73M380.42 188.48V186.22H380.78V187.43M381.18 184.28V190.07M381.56 184.45V188.48M381.18 184.28V184.04H381.56V184.45M381.92 186.21V190.21M381.37 184.04V183.44H381.92V186.21M380.6 186.22V183.1H381.64V183.44M379.86 185.04V183.1H381.12V183.1M382.16 185.97V190.44M382.52 188.87V192.42M382.16 185.97V184.92H382.52V188.87M383.03 184.97V193.42M383.53 187.82V193.98M383.03 184.97V184.93H383.53V187.82M382.34 184.92V184.45H383.28V184.93M384.04 186.87V194.85M384.56 192.62V193.62M384.04 186.87V185.37H384.56V192.62M385.05 191.68V194.92M385.43 185.94V201.22M385.05 191.68V185.93H385.43V185.94M385.75 185.93V193.27M385.24 185.93V185.92H385.75V185.93M386.19 189.95V190.95M386.57 189.89V195.04M386.19 189.95V189.65H386.57V189.89M386.94 194.45V195.45M387.32 189.4V196.17M386.94 194.45V188.9H387.32V189.4M387.67 196.87V197.87M387.94 193.91V194.91M387.67 196.87V193.02H387.94V193.91M388.13 192.37V193.37M387.8 193.02V190.08H388.13V192.37M387.13 188.9V187.68H387.96V190.08M386.38 189.65V186.52H387.55V187.68M388.38 190.64V194.59M388.72 190.67V198.66M388.38 190.64V190.61H388.72V190.67M389.09 197.27V201.68M389.38 198.47V199.47M389.58 198.75V201.69M389.76 199.88V201.17M390.04 199.26V200.26M389.76 199.88V198.76H390.04V199.26M389.58 198.75V198.75H389.9V198.76M389.38 198.47V198.12H389.74V198.75M389.09 197.27V196.07H389.56V198.12M390.42 196.13V197.13M389.33 196.07V196.06H390.42V196.13M388.55 190.61V187.74H389.87V196.06M386.96 186.52V185.92H389.21V187.74M385.5 185.92V185.32H386.96V186.52M384.3 185.37V184.77H385.5V185.92M382.81 184.45V183.85H384.3V185.37M380.49 183.1V182.5H382.81V184.45M377.81 181.68V181.08H380.49V183.1M375.58 180.42V179.82H377.81V181.68M373.61 178.88V178.28H375.58V180.42M370.8 177.7V177.1H373.61V178.88M368.29 176.74V176.14H370.8V177.7M366.51 175.4V174.8H368.29V176.74M366.51 174.6V175.4M391.46 180.05V188.12M391.87 187.98V191.86M392.28 187.42V188.42M391.87 187.98V183.36H392.28V187.42M391.46 180.05V178.8H392.07V183.36M392.71 179.81V183.61M393.04 186.11V189.11M392.71 179.81V179.69H393.04V186.11M393.36 180.45V193.88M392.88 179.69V179.34H393.36V180.45M393.6 187.44V188.44M393.9 187.38V189.66M393.6 187.44V187.3H393.9V187.38M394.28 186.28V188.65M393.75 187.3V186.26H394.28V186.28M394.57 189.4V190.4M394.89 189.35V190.35M395.17 187.82V188.82M394.89 189.35V187.82H395.17V187.82M394.57 189.4V187.82H395.03V187.82M395.36 187.94V188.94M394.8 187.82V187.76H395.36V187.94M394.01 186.26V186.01H395.08V187.76M393.12 179.34V179.34H394.55V186.01M395.68 184.95V189.37M395.97 187.87V189.08M395.68 184.95V184.94H395.97V187.87M396.28 182.68V192.2M396.75 186.55V191.73M396.28 182.68V182.65H396.75V186.55M395.82 184.94V182.12H396.51V182.65M397.2 184.42V191.02M396.17 182.12V180.5H397.2V184.42M397.55 182V184.26M397.95 184.44V191.83M398.32 182.42V190.2M397.95 184.44V182.42H398.32V182.42M397.55 182V181.65H398.13V182.42M398.54 184.7V196.07M398.83 184.02V185.02M398.54 184.7V183.52H398.83V184.02M397.84 181.65V181.29H398.68V183.52M399.2 183.76V188.99M399.59 182.37V187.54M399.2 183.76V182.26H399.59V182.37M399.95 188.32V189.32M400.3 183.69V192.32M399.95 188.32V182.39H400.3V183.69M399.39 182.26V182.1H400.12V182.39M400.61 184.53V193.47M400.84 187.96V193.92M401.13 185.66V191.01M400.84 187.96V184.61H401.13V185.66M400.61 184.53V182.29H400.98V184.61M401.46 182.29V189.46M400.8 182.29V182.28H401.46V182.29M399.76 182.1V181.93H401.13V182.28M401.78 187.8V189.32M402.05 187.26V197.61M402.33 187.47V193.71M402.05 187.26V187.05H402.33V187.47M402.68 187.01V188.7M402.19 187.05V183.58H402.68V187.01M401.78 187.8V182.97H402.44V183.58M402.97 185.86V187.31M403.32 186.41V189.88M402.97 185.86V185.6H403.32V186.41M403.81 188.63V194.47M404.11 187.87V198.42M403.81 188.63V187.57H404.11V187.87M404.41 190.67V194.06M403.96 187.57V187.55H404.41V190.67M403.15 185.6V185.36H404.19V187.55M404.84 184.7V196.81M405.17 184.64V192.81M404.84 184.7V184.63H405.17V184.64M405.45 190.04V191.04M405 184.63V184.57H405.45V190.04M405.72 185.65V190.77M405.23 184.57V183.47H405.72V185.65M403.67 185.36V183.47H405.47V183.47M406.03 188.75V189.75M406.49 185.98V189.61M406.98 191.25V192.25M406.49 185.98V185.86H406.98V191.25M406.03 188.75V184.67H406.73V185.86M407.36 194.59V195.59M407.78 191.35V192.35M407.36 194.59V191.29H407.78V191.35M408.15 193.24V196.95M408.47 192.81V193.81M408.15 193.24V192.8H408.47V192.81M407.57 191.29V191.28H408.31V192.8M406.38 184.67V184.66H407.94V191.28M408.89 186.51V192.36M409.27 186.93V198.53M408.89 186.51V186.49H409.27V186.93M409.66 186.56V197.47M409.08 186.49V186.49H409.66V186.56M409.95 189.46V197.41M410.27 188.27V203.21M409.95 189.46V187.97H410.27V188.27M409.37 186.49V186.05H410.11V187.97M410.67 189.05V196.92M411.04 188.73V194.86M410.67 189.05V188.25H411.04V188.73M411.43 193.08V194.08M410.85 188.25V188.23H411.43V193.08M409.74 186.05V185.8H411.14V188.23M411.83 194.77V196.77M412.16 192.81V193.81M411.83 194.77V192.68H412.16V192.81M412.45 192.86V194.01M411.99 192.68V192.11H412.45V192.86M412.7 194.89V200.62M413.05 193.93V197.8M412.7 194.89V193.93H413.05V193.93M413.47 194.79V196.22M412.87 193.93V192.79H413.47V194.79M412.22 192.11V191.75H413.17V192.79M413.92 190.82V194.08M412.7 191.75V186.99H413.92V190.82M414.3 188.19V192.76M414.59 188.1V196.18M414.3 188.19V188.1H414.59V188.1M415.01 188.22V196.56M414.44 188.1V187.99H415.01V188.22M415.42 193.58V194.58M415.8 193.49V194.49M415.42 193.58V193.48H415.8V193.49M416.15 193.55V197.36M415.61 193.48V193.48H416.15V193.55M416.49 194.26V198.75M415.88 193.48V193.48H416.49V194.26M416.98 188.76V195.79M417.32 189.52V195.65M416.98 188.76V188.53H417.32V189.52M417.54 188.59V195.81M417.82 188.72V195.55M417.54 188.59V188.52H417.82V188.72M417.15 188.53V188.52H417.68V188.52M416.19 193.48V188.52H417.41V188.52M418.16 194.68V197.4M418.48 194.97V198.51M418.78 195.59V199.07M419.08 196.7V197.7M418.78 195.59V195.57H419.08V196.7M418.48 194.97V191.37H418.93V195.57M418.16 194.68V191.16H418.7V191.37M416.8 188.52V188.43H418.43V191.16M414.73 187.99V187.39H417.61V188.43M413.31 186.99V186.39H414.73V187.99M410.44 185.8V185.2H413.31V186.99M407.16 184.66V184.06H410.44V185.8M404.57 183.47V182.87H407.16V184.66M402.11 182.97V182.37H404.57V183.47M400.44 181.93V181.33H402.11V182.97M398.26 181.29V180.69H400.44V181.93M396.68 180.5V179.9H398.26V181.29M393.83 179.34V178.74H396.68V180.5M391.77 178.8V178.2H393.83V179.34M391.77 174.6V178.8M419.85 183.2V184.2M420.27 185.33V186.33M420.59 185.38V186.38M420.97 185.5V186.5M421.31 185.89V186.89M420.97 185.5V185.4H421.31V185.89M420.59 185.38V185.37H421.14V185.4M420.27 185.33V185.31H420.86V185.37M419.85 183.2V182.46H420.57V185.31M421.52 180.74V181.74M421.84 183.01V184.01M421.52 180.74V180.64H421.84V183.01M420.21 182.46V179.2H421.68V180.64M422.22 179.92V183.58M422.51 182.93V183.93M422.8 181.89V182.89M422.51 182.93V181.84H422.8V181.89M422.22 179.92V179.87H422.65V181.84M423.12 183.41V186.95M423.4 184.96V185.96M423.7 184.24V185.24M423.4 184.96V184.14H423.7V184.24M423.12 183.41V180.75H423.55V184.14M422.44 179.87V179.87H423.33V180.75M424.09 179.99V182.77M422.89 179.87V179.51H424.09V179.99M424.56 182.06V183.06M424.99 184.65V185.75M424.56 182.06V181.55H424.99V184.65M425.35 183.92V187.01M425.72 185.11V188.26M426.05 184.78V185.78M425.72 185.11V182.89H426.05V184.78M425.35 183.92V182.83H425.88V182.89M426.3 184.22V185.22M425.62 182.83V182.8H426.3V184.22M424.77 181.55V180.01H425.96V182.8M426.68 181.5V182.84M427.05 183.18V185.67M427.35 185.31V186.31M427.69 183.76V188.16M428 185.07V188.35M427.69 183.76V183.05H428V185.07M427.35 185.31V183.05H427.84V183.05M427.05 183.18V182.66H427.6V183.05M428.37 182.65V184.77M427.32 182.66V182.63H428.37V182.65M426.68 181.5V180.58H427.85V182.63M428.78 181.94V186.42M429.09 184.55V187.44M428.78 181.94V181.94H429.09V184.55M429.46 181.33V187.12M428.93 181.94V181.25H429.46V181.33M429.76 182.2V183.2M430.1 184.19V190.24M429.76 182.2V181.68H430.1V184.19M430.58 189.41V191.25M431.04 187.93V188.93M430.58 189.41V187.93H431.04V187.93M429.93 181.68V181.62H430.81V187.93M431.4 182.39V189M431.58 182.15V185.87M431.86 186.86V187.86M431.58 182.15V182.15H431.86V186.86M431.4 182.39V182.01H431.72V182.15M430.37 181.62V181.62H431.56V182.01M432.3 183.63V185.23M432.6 182.75V185.01M432.3 183.63V182.75H432.6V182.75M432.75 182.74V190.61M432.45 182.75V182.55H432.75V182.74M432.98 184.44V185.45M433.33 185.28V186.28M432.98 184.44V182.92H433.33V185.28M432.6 182.55V182.49H433.15V182.92M433.75 183.52V184.99M434.11 183.42V187.44M434.37 183.89V186.61M434.69 188.43V189.43M434.37 183.89V183.43H434.69V188.43M434.11 183.42V183.38H434.53V183.43M433.75 183.52V183.35H434.32V183.38M434.98 185.33V186.33M435.26 185.12V186.16M434.98 185.33V185.12H435.26V185.12M434.04 183.35V183.06H435.12V185.12M435.69 183.92V184.92M436.03 187.3V188.3M436.37 184.35V185.35M436.03 187.3V184.17H436.37V184.35M436.81 184.24V185.24M436.2 184.17V184.1H436.81V184.24M435.69 183.92V183.86H436.5V184.1M437.23 184.54V188.87M437.65 188.27V189.41M437.94 187.8V188.8M437.65 188.27V187.8H437.94V187.8M437.23 184.54V184.53H437.8V187.8M438.18 185.57V186.57M438.48 185.01V189.91M438.18 185.57V185H438.48V185.01M438.89 185.12V186.12M438.33 185V185H438.89V185.12M439.29 185.77V188.19M439.67 188.15V189.2M439.29 185.77V185.58H439.67V188.15M439.95 188V189M440.27 187.78V188.78M439.95 188V187.11H440.27V187.78M440.7 188.13V190.5M441.06 189.74V190.74M441.35 190.23V191.23M441.06 189.74V189.18H441.35V190.23M440.7 188.13V187.07H441.2V189.18M440.11 187.11V187.07H440.95V187.07M439.48 185.58V185.5H440.53V187.07M441.68 186.96V188.83M441.99 187.57V191.21M442.28 187.75V188.75M441.99 187.57V187.34H442.28V187.75M441.68 186.96V186.85H442.14V187.34M442.7 186.63V189.85M443.03 187.55V188.55M443.33 187.9V188.9M443.61 188.03V190.72M443.33 187.9V187.9H443.61V188.03M443.03 187.55V186.77H443.47V187.9M442.7 186.63V186.62H443.25V186.77M441.91 186.85V186.62H442.98V186.62M443.9 188.57V189.57M444.35 188.52V189.52M443.9 188.57V188.52H444.35V188.52M444.87 188.22V192.63M445.32 189.05V190.05M444.87 188.22V188.15H445.32V189.05M444.13 188.52V187.76H445.1V188.15M445.67 191.48V192.48M445.98 191.31V192.95M445.67 191.48V191.21H445.98V191.31M446.31 191.47V197.79M445.82 191.21V189.92H446.31V191.47M446.71 194.56V195.56M447.19 194.6V199.11M446.71 194.56V194.43H447.19V194.6M447.6 194.43V195.78M446.95 194.43V194.43H447.6V194.43M446.07 189.92V188.71H447.27V194.43M448.01 189.92V195.32M448.42 191.6V196.36M448.77 193.14V194.14M449.09 194.3V195.3M448.77 193.14V192.29H449.09V194.3M448.42 191.6V190.9H448.93V192.29M448.01 189.92V189.92H448.68V190.9M449.42 196.84V198.64M449.75 196.08V197.37M449.42 196.84V192.95H449.75V196.08M450.13 194.05V200.66M450.65 193.21V194.66M450.13 194.05V192.98H450.65V193.21M449.58 192.95V190.73H450.39V192.98M451.1 191.84V196.94M451.46 191.84V198.21M451.1 191.84V191.84H451.46V191.84M451.84 195.24V197.36M452.11 192.27V195.27M451.84 195.24V192.27H452.11V192.27M452.33 191.75V192.97M451.97 192.27V191.73H452.33V191.75M452.73 192.07V194.03M452.15 191.73V191.73H452.73V192.07M451.28 191.84V191.7H452.44V191.73M453.25 195.72V196.72M453.75 196.71V197.71M453.25 195.72V195.55H453.75V196.71M454.25 195.8V196.8M453.5 195.55V193.08H454.25V195.8M454.64 193.31V198.43M454.86 194.2V195.2M455.19 194.79V195.79M454.86 194.2V194.2H455.19V194.79M454.64 193.31V193.07H455.02V194.2M453.88 193.08V192.91H454.83V193.07M455.63 200.25V201.25M455.92 195.81V204.48M455.63 200.25V195.81H455.92V195.81M456.06 194.9V198.23M456.41 196.86V202.98M456.06 194.9V194.75H456.41V196.86M455.77 195.81V194.39H456.24V194.75M456.85 197.05V198.05M457.28 197.81V198.81M456.85 197.05V195.59H457.28V197.81M457.78 197.08V198.08M458.17 198.16V199.16M457.78 197.08V195.36H458.17V198.16M457.07 195.59V195.17H457.97V195.36M458.57 196.33V203.98M458.87 196.96V203.93M458.57 196.33V196.25H458.87V196.96M459.1 197.42V202.62M459.47 196.33V204.86M459.82 196.88V200.48M460.19 196.88V202.14M459.82 196.88V196.88H460.19V196.88M459.47 196.33V196.25H460.01V196.88M459.1 197.42V196.23H459.74V196.25M458.72 196.25V196.22H459.42V196.23M460.64 201.89V202.89M460.92 201.87V202.87M460.64 201.89V201.69H460.92V201.87M461.07 198.37V200.03M461.36 198.72V201.3M461.07 198.37V197.6H461.36V198.72M460.78 201.69V197.57H461.22V197.6M461.81 198.97V203.48M462.1 199.2V209.42M462.43 204.56V205.56M462.1 199.2V199.15H462.43V204.56M462.87 199.87V204.38M462.26 199.15V198.96H462.87V199.87M461.81 198.97V198.96H462.56V198.96M463.24 204.59V205.59M463.52 203.86V209.45M463.24 204.59V201.56H463.52V203.86M463.75 199.31V202.25M463.38 201.56V198.93H463.75V199.31M462.19 198.96V198.93H463.56V198.93M464.01 202.84V203.84M464.3 201.42V207.02M464.01 202.84V201.37H464.3V201.42M462.87 198.93V198.33H464.16V201.37M464.6 200.72V202.34M464.92 203.58V206.38M464.6 200.72V200.65H464.92V203.58M465.25 201.65V204.9M464.76 200.65V200.47H465.25V201.65M465.61 202.86V207.5M466 201.57V206.36M465.61 202.86V201.55H466V201.57M466.4 202.72V203.72M465.8 201.55V201.52H466.4V202.72M465.01 200.47V200.26H466.1V201.52M466.86 204.6V205.6M467.33 202.01V205.07M466.86 204.6V201.98H467.33V202.01M467.69 205.37V206.37M468 201.9V202.9M467.69 205.37V201.86H468V201.9M468.32 204.62V205.62M467.84 201.86V201.86H468.32V204.62M467.1 201.98V201.74H468.08V201.86M468.73 208.18V209.18M469.12 204.92V208.9M469.47 203.33V207.01M469.12 204.92V203.27H469.47V203.33M468.73 208.18V203.25H469.3V203.27M469.85 203.07V204.57M469.01 203.25V203.04H469.85V203.07M470.2 204.82V205.82M470.57 204.65V208M470.2 204.82V204.59H470.57V204.65M471.01 205.84V209.56M470.39 204.59V204.15H471.01V205.84M471.36 208.17V209.17M471.7 210.33V211.33M472.11 207.44V208.44M471.7 210.33V207.43H472.11V207.44M471.36 208.17V207.14H471.9V207.43M470.7 204.15V204.15H471.63V207.14M472.45 211.49V212.49M472.74 211.58V212.58M472.45 211.49V210.49H472.74V211.58M473.08 211.99V212.99M473.37 213.28V214.28M473.08 211.99V211.99H473.37V213.28M472.59 210.49V210.47H473.23V211.99M473.65 213.11V214.11M472.91 210.47V210.46H473.65V213.11M474.09 206.76V211.75M474.53 208.4V209.4M474.09 206.76V206.06H474.53V208.4M473.28 210.46V205.78H474.31V206.06M474.97 210.62V211.62M475.39 212.96V213.96M475.79 212.65V213.65M475.39 212.96V211.49H475.79V212.65M474.97 210.62V209.51H475.59V211.49M476.12 208.06V209.06M476.38 210.45V211.45M476.66 208.96V212.81M476.38 210.45V208.2H476.66V208.96M476.93 208.21V209.21M476.52 208.2V208.19H476.93V208.21M476.12 208.06V208.06H476.72V208.19M475.28 209.51V207.61H476.42V208.06M477.17 212.09V214.19M477.48 213.12V214.35M477.17 212.09V211.99H477.48V213.12M477.87 211.65V214.38M477.33 211.99V211.65H477.87V211.65M478.27 209.37V215.9M477.6 211.65V209.34H478.27V209.37M478.69 211.65V217.83M478.99 210.69V213.03M478.69 211.65V210.43H478.99V210.69M479.27 212.74V217.54M479.59 210.65V214.73M479.27 212.74V210.43H479.59V210.65M478.84 210.43V210.42H479.43V210.43M479.86 214.73V215.99M480.15 217.52V218.52M479.86 214.73V214.31H480.15V217.52M480.43 212.75V213.75M480.78 211.87V217.52M480.43 212.75V211.75H480.78V211.87M480.01 214.31V211.39H480.6V211.75M481.11 217.06V218.06M481.45 217.04V218.04M481.77 217.82V218.82M481.45 217.04V216.98H481.77V217.82M481.11 217.06V216.92H481.61V216.98M482.07 216.56V217.56M481.36 216.92V216.3H482.07V216.56M482.49 216.02V217.02M482.9 215.3V216.3M483.27 215.6V219.9M483.58 217.57V218.57M483.27 215.6V215.59H483.58V217.57M482.9 215.3V212.75H483.42V215.59M482.49 216.02V212.68H483.16V212.75M481.71 216.3V212.4H482.83V212.68M483.92 214.86V217.49M484.32 215.06V216.06M483.92 214.86V214.69H484.32V215.06M484.65 215.62V216.62M484.12 214.69V214.69H484.65V215.62M485.05 219.46V220.46M485.39 219.57V220.57M485.05 219.46V217.24H485.39V219.57M484.38 214.69V214.54H485.22V217.24M485.56 216.98V219.97M485.88 217.88V218.93M485.56 216.98V216.83H485.88V217.88M486.2 216.93V217.93M485.72 216.83V216.8H486.2V216.93M486.48 218.14V219.48M486.78 218.33V219.33M486.48 218.14V217.21H486.78V218.33M487.09 216.03V221.25M486.63 217.21V215.98H487.09V216.03M485.96 216.8V215.95H486.86V215.98M487.54 216.24V217.24M486.41 215.95V215.95H487.54V216.24M487.99 217.91V218.91M488.42 219.09V220.09M488.79 218.54V219.9M489.17 218.25V219.25M489.59 219.09V220.09M489.17 218.25V218.2H489.59V219.09M488.79 218.54V218.2H489.38V218.2M488.42 219.09V218.14H489.09V218.2M487.99 217.91V217.82H488.75V218.14M486.97 215.95V215.35H488.37V217.82M484.8 214.54V213.94H486.97V215.95M482.27 212.4V211.8H484.8V214.54M480.3 211.39V210.79H482.27V212.4M479.14 210.42V209.82H480.3V211.39M477.93 209.34V208.74H479.14V210.42M475.85 207.61V207.01H477.93V209.34M473.79 205.78V205.18H475.85V207.61M471.17 204.15V203.55H473.79V205.78M469.43 203.04V202.44H471.17V204.15M467.59 201.74V201.14H469.43V203.04M465.56 200.26V199.66H467.59V201.74M463.52 198.33V197.73H465.56V200.26M461 197.57V196.97H463.52V198.33M459.07 196.22V195.62H461V197.57M457.52 195.17V194.57H459.07V196.22M456.01 194.39V193.79H457.52V195.17M454.35 192.91V192.31H456.01V194.39M451.86 191.7V191.1H454.35V192.91M449.99 190.73V190.13H451.86V191.7M448.34 189.92V189.32H449.99V190.73M446.67 188.71V188.11H448.34V189.92M444.61 187.76V187.16H446.67V188.71M442.44 186.62V186.02H444.61V187.76M440.01 185.5V184.9H442.44V186.62M438.61 185V184.4H440.01V185.5M437.51 184.53V183.93H438.61V185M436.1 183.86V183.26H437.51V184.53M434.58 183.06V182.46H436.1V183.86M432.88 182.49V181.89H434.58V183.06M430.97 181.62V181.02H432.88V182.49M429.19 181.25V180.65H430.97V181.62M427.26 180.58V179.98H429.19V181.25M425.37 180.01V179.41H427.26V180.58M423.49 179.51V178.91H425.37V180.01M420.95 179.2V178.6H423.49V179.51M420.95 174.6V179.2M490.72 182.75V187.16M491 177.55V187.76M491.33 179.1V187.2M491 177.55V176.91H491.33V179.1M490.72 182.75V176.88H491.16V176.91M491.66 182.09V188.02M492.04 182.12V188.52M491.66 182.09V182.09H492.04V182.12M490.94 176.88V175.9H491.85V182.09M492.32 179.94V191.98M492.61 179.34V193.58M492.32 179.94V179.34H492.61V179.34M492.91 182.63V187.45M492.46 179.34V176.78H492.91V182.63M493.19 189.51V191.64M493.58 186.03V188.49M493.19 189.51V185.71H493.58V186.03M493.91 179.77V192.01M493.38 185.71V178.14H493.91V179.77M494.2 180.95V194.52M494.54 181.05V187.92M494.2 180.95V180.33H494.54V181.05M494.85 181.7V190.81M495.08 181.84V191.5M495.43 182.2V190.18M495.08 181.84V181.83H495.43V182.2M494.85 181.7V180.57H495.25V181.83M494.37 180.33V179.68H495.05V180.57M493.65 178.14V177.03H494.71V179.68M492.69 176.78V176.77H494.18V177.03M495.74 182.4V195.54M496.08 188.28V189.42M495.74 182.4V181.93H496.08V188.28M496.58 179.84V189.45M496.91 182.36V188.4M497.22 182.47V194.45M496.91 182.36V181.47H497.22V182.47M496.58 179.84V179.62H497.06V181.47M497.55 181V193.84M496.82 179.62V179.21H497.55V181M495.91 181.93V178.17H497.19V179.21M493.43 176.77V176.73H496.55V178.17M491.39 175.9V175.8H494.99V176.73M336 179.2H361.5V182M346 182.6H361V186M352 186.2H362.5V189M372 176.4H389.5V180M378 179.6H389V183M391.5 178.8H418.5V181M400 182.5H418V185.5M405 185.6H417.5V188M452.1 202.34V207.09M452.38 199.8V207.94M452.1 202.34V199.8H452.38V199.8M452.69 193.38V208.2M453.03 199.33V209.1M452.69 193.38V193.01H453.03V199.33M452.24 199.8V192.24H452.86V193.01M453.49 202.04V209.21M453.86 209.61V210.61M454.03 209.21V210.21M454.33 210.97V211.97M454.62 207.82V210.5M454.33 210.97V207.82H454.62V207.82M454.03 209.21V207.51H454.48V207.82M453.86 209.61V205.2H454.26V207.51M454.95 200.81V210.52M455.36 201.08V213.5M454.95 200.81V200.38H455.36V201.08M454.06 205.2V198.05H455.15V200.38M453.49 202.04V198.04H454.61V198.05M452.55 192.24V192H454.05V198.04M435.16 192.46V194.73M435.43 190.76V192.25M435.72 194.86V195.86M436.03 190.95V194.81M435.72 194.86V190.91H436.03V190.95M435.43 190.76V190.75H435.87V190.91M435.16 192.46V188.97H435.65V190.75M436.31 188.31V195.11M436.62 192.01V193.8M436.31 188.31V186.02H436.62V192.01M436.94 190.01V193.47M437.27 186.63V197.93M436.94 190.01V186.62H437.27V186.63M436.46 186.02V186.02H437.11V186.62M437.73 191V194.47M436.78 186.02V186H437.73V191M435.41 188.97V186H437.26V186M442.16 190.65V197.4M442.57 190.21V196.05M442.16 190.65V189.28H442.57V190.21M442.98 195.59V196.59M443.28 195.61V196.61M442.98 195.59V195.54H443.28V195.61M443.5 189.57V197.48M443.8 193.2V195.13M443.5 189.57V189.57H443.8V193.2M443.13 195.54V189.34H443.65V189.57M444.25 190.37V197.06M443.39 189.34V189.03H444.25V190.37M442.37 189.28V189H443.82V189.03M323.14 174.6H493.19M323.14 174.6V175.6M362.36 174.6V175.6M366.51 174.6V175.6M391.77 174.6V175.6M420.95 174.6V175.6M493.19 174.6V175.6" stroke="#000" stroke-width="0.75" fill="none"/>
<text x="261.8" y="264.2" font-size="11" text-anchor="start" fill="#000" font-weight="bold">D</text>
<rect x="311.8" y="258" width="9.3" height="15.9" fill="#3a55b0"/>
<text x="307.9" y="268.53" font-size="7.4" text-anchor="end" fill="#262626">Blue</text>
<rect x="322.4" y="258" width="32.5" height="15.9" fill="#daebd2"/>
<text x="0" y="0" font-size="8.4" text-anchor="middle" fill="#222" transform="translate(338.62 264.5) scale(0.5)">-0.19</text>
<text x="0" y="0" font-size="8.4" text-anchor="middle" fill="#222" transform="translate(338.62 269.7) scale(0.5)">(0.3)</text>
<rect x="354.85" y="258" width="32.5" height="15.9" fill="#7cc144"/>
<text x="0" y="0" font-size="8.4" text-anchor="middle" fill="#222" transform="translate(371.07 264.5) scale(0.5)">-0.69</text>
<text x="0" y="0" font-size="8.4" text-anchor="middle" fill="#222" transform="translate(371.07 269.7) scale(0.5)">(3e-05)</text>
<rect x="387.3" y="258" width="32.5" height="15.9" fill="#f07880"/>
<text x="0" y="0" font-size="8.4" text-anchor="middle" fill="#222" transform="translate(403.52 264.5) scale(0.5)">0.6</text>
<text x="0" y="0" font-size="8.4" text-anchor="middle" fill="#222" transform="translate(403.52 269.7) scale(0.5)">(5e-04)</text>
<rect x="419.75" y="258" width="32.5" height="15.9" fill="#d4e8ca"/>
<text x="0" y="0" font-size="8.4" text-anchor="middle" fill="#222" transform="translate(435.98 264.5) scale(0.5)">-0.22</text>
<text x="0" y="0" font-size="8.4" text-anchor="middle" fill="#222" transform="translate(435.98 269.7) scale(0.5)">(0.2)</text>
<rect x="452.2" y="258" width="32.5" height="15.9" fill="#f39398"/>
<text x="0" y="0" font-size="8.4" text-anchor="middle" fill="#222" transform="translate(468.43 264.5) scale(0.5)">0.48</text>
<text x="0" y="0" font-size="8.4" text-anchor="middle" fill="#222" transform="translate(468.43 269.7) scale(0.5)">(0.007)</text>
<rect x="311.8" y="273.85" width="9.3" height="15.9" fill="#5cb848"/>
<text x="307.9" y="284.38" font-size="7.4" text-anchor="end" fill="#262626">Green</text>
<rect x="322.4" y="273.85" width="32.5" height="15.9" fill="#e2f0dc"/>
<text x="0" y="0" font-size="8.4" text-anchor="middle" fill="#222" transform="translate(338.62 280.35) scale(0.5)">-0.15</text>
<text x="0" y="0" font-size="8.4" text-anchor="middle" fill="#222" transform="translate(338.62 285.55) scale(0.5)">(0.4)</text>
<rect x="354.85" y="273.85" width="32.5" height="15.9" fill="#84c44f"/>
<text x="0" y="0" font-size="8.4" text-anchor="middle" fill="#222" transform="translate(371.07 280.35) scale(0.5)">-0.64</text>
<text x="0" y="0" font-size="8.4" text-anchor="middle" fill="#222" transform="translate(371.07 285.55) scale(0.5)">(1e-04)</text>
<rect x="387.3" y="273.85" width="32.5" height="15.9" fill="#ec282c"/>
<text x="0" y="0" font-size="8.4" text-anchor="middle" fill="#222" transform="translate(403.52 280.35) scale(0.5)">0.86</text>
<text x="0" y="0" font-size="8.4" text-anchor="middle" fill="#222" transform="translate(403.52 285.55) scale(0.5)">(1e-09)</text>
<rect x="419.75" y="273.85" width="32.5" height="15.9" fill="#d2e7c8"/>
<text x="0" y="0" font-size="8.4" text-anchor="middle" fill="#222" transform="translate(435.98 280.35) scale(0.5)">-0.23</text>
<text x="0" y="0" font-size="8.4" text-anchor="middle" fill="#222" transform="translate(435.98 285.55) scale(0.5)">(0.2)</text>
<rect x="452.2" y="273.85" width="32.5" height="15.9" fill="#ffffff"/>
<text x="0" y="0" font-size="8.4" text-anchor="middle" fill="#222" transform="translate(468.43 280.35) scale(0.5)">0.042</text>
<text x="0" y="0" font-size="8.4" text-anchor="middle" fill="#222" transform="translate(468.43 285.55) scale(0.5)">(0.8)</text>
<rect x="311.8" y="289.7" width="9.3" height="15.9" fill="#5c3a1c"/>
<text x="307.9" y="300.23" font-size="7.4" text-anchor="end" fill="#262626">Brown</text>
<rect x="322.4" y="289.7" width="32.5" height="15.9" fill="#f2888e"/>
<text x="0" y="0" font-size="8.4" text-anchor="middle" fill="#222" transform="translate(338.62 296.2) scale(0.5)">0.53</text>
<text x="0" y="0" font-size="8.4" text-anchor="middle" fill="#222" transform="translate(338.62 301.4) scale(0.5)">(0.002)</text>
<rect x="354.85" y="289.7" width="32.5" height="15.9" fill="#acd898"/>
<text x="0" y="0" font-size="8.4" text-anchor="middle" fill="#222" transform="translate(371.07 296.2) scale(0.5)">-0.41</text>
<text x="0" y="0" font-size="8.4" text-anchor="middle" fill="#222" transform="translate(371.07 301.4) scale(0.5)">(0.03)</text>
<rect x="387.3" y="289.7" width="32.5" height="15.9" fill="#cee5c2"/>
<text x="0" y="0" font-size="8.4" text-anchor="middle" fill="#222" transform="translate(403.52 296.2) scale(0.5)">-0.25</text>
<text x="0" y="0" font-size="8.4" text-anchor="middle" fill="#222" transform="translate(403.52 301.4) scale(0.5)">(0.2)</text>
<rect x="419.75" y="289.7" width="32.5" height="15.9" fill="#ed646c"/>
<text x="0" y="0" font-size="8.4" text-anchor="middle" fill="#222" transform="translate(435.98 296.2) scale(0.5)">0.67</text>
<text x="0" y="0" font-size="8.4" text-anchor="middle" fill="#222" transform="translate(435.98 301.4) scale(0.5)">(5e-05)</text>
<rect x="452.2" y="289.7" width="32.5" height="15.9" fill="#cee5c2"/>
<text x="0" y="0" font-size="8.4" text-anchor="middle" fill="#222" transform="translate(468.43 296.2) scale(0.5)">-0.25</text>
<text x="0" y="0" font-size="8.4" text-anchor="middle" fill="#222" transform="translate(468.43 301.4) scale(0.5)">(0.2)</text>
<rect x="311.8" y="305.55" width="9.3" height="15.9" fill="#b0d040"/>
<text x="307.9" y="316.08" font-size="7.4" text-anchor="end" fill="#262626">Green-yellow</text>
<rect x="322.4" y="305.55" width="32.5" height="15.9" fill="#fcd7da"/>
<text x="0" y="0" font-size="8.4" text-anchor="middle" fill="#222" transform="translate(338.62 312.05) scale(0.5)">0.19</text>
<text x="0" y="0" font-size="8.4" text-anchor="middle" fill="#222" transform="translate(338.62 317.25) scale(0.5)">(0.3)</text>
<rect x="354.85" y="305.55" width="32.5" height="15.9" fill="#7cc144"/>
<text x="0" y="0" font-size="8.4" text-anchor="middle" fill="#222" transform="translate(371.07 312.05) scale(0.5)">-0.69</text>
<text x="0" y="0" font-size="8.4" text-anchor="middle" fill="#222" transform="translate(371.07 317.25) scale(0.5)">(2e-05)</text>
<rect x="387.3" y="305.55" width="32.5" height="15.9" fill="#fde8ea"/>
<text x="0" y="0" font-size="8.4" text-anchor="middle" fill="#222" transform="translate(403.52 312.05) scale(0.5)">0.12</text>
<text x="0" y="0" font-size="8.4" text-anchor="middle" fill="#222" transform="translate(403.52 317.25) scale(0.5)">(0.5)</text>
<rect x="419.75" y="305.55" width="32.5" height="15.9" fill="#f18188"/>
<text x="0" y="0" font-size="8.4" text-anchor="middle" fill="#222" transform="translate(435.98 312.05) scale(0.5)">0.56</text>
<text x="0" y="0" font-size="8.4" text-anchor="middle" fill="#222" transform="translate(435.98 317.25) scale(0.5)">(0.001)</text>
<rect x="452.2" y="305.55" width="32.5" height="15.9" fill="#ffffff"/>
<text x="0" y="0" font-size="8.4" text-anchor="middle" fill="#222" transform="translate(468.43 312.05) scale(0.5)">0.031</text>
<text x="0" y="0" font-size="8.4" text-anchor="middle" fill="#222" transform="translate(468.43 317.25) scale(0.5)">(0.9)</text>
<rect x="311.8" y="321.4" width="9.3" height="15.9" fill="#f0e020"/>
<text x="307.9" y="331.93" font-size="7.4" text-anchor="end" fill="#262626">Yellow</text>
<rect x="322.4" y="321.4" width="32.5" height="15.9" fill="#fac4c8"/>
<text x="0" y="0" font-size="8.4" text-anchor="middle" fill="#222" transform="translate(338.62 327.9) scale(0.5)">0.27</text>
<text x="0" y="0" font-size="8.4" text-anchor="middle" fill="#222" transform="translate(338.62 333.1) scale(0.5)">(0.1)</text>
<rect x="354.85" y="321.4" width="32.5" height="15.9" fill="#67bb44"/>
<text x="0" y="0" font-size="8.4" text-anchor="middle" fill="#222" transform="translate(371.07 327.9) scale(0.5)">-0.99</text>
<text x="0" y="0" font-size="8.4" text-anchor="middle" fill="#222" transform="translate(371.07 333.1) scale(0.5)">(3e-29)</text>
<rect x="387.3" y="321.4" width="32.5" height="15.9" fill="#f5a0a4"/>
<text x="0" y="0" font-size="8.4" text-anchor="middle" fill="#222" transform="translate(403.52 327.9) scale(0.5)">0.42</text>
<text x="0" y="0" font-size="8.4" text-anchor="middle" fill="#222" transform="translate(403.52 333.1) scale(0.5)">(0.02)</text>
<rect x="419.75" y="321.4" width="32.5" height="15.9" fill="#fac9cd"/>
<text x="0" y="0" font-size="8.4" text-anchor="middle" fill="#222" transform="translate(435.98 327.9) scale(0.5)">0.25</text>
<text x="0" y="0" font-size="8.4" text-anchor="middle" fill="#222" transform="translate(435.98 333.1) scale(0.5)">(0.2)</text>
<rect x="452.2" y="321.4" width="32.5" height="15.9" fill="#fac6ca"/>
<text x="0" y="0" font-size="8.4" text-anchor="middle" fill="#222" transform="translate(468.43 327.9) scale(0.5)">0.26</text>
<text x="0" y="0" font-size="8.4" text-anchor="middle" fill="#222" transform="translate(468.43 333.1) scale(0.5)">(0.2)</text>
<rect x="311.8" y="337.25" width="9.3" height="15.9" fill="#f8c0d0"/>
<text x="307.9" y="347.78" font-size="7.4" text-anchor="end" fill="#262626">Pink</text>
<rect x="322.4" y="337.25" width="32.5" height="15.9" fill="#f17c84"/>
<text x="0" y="0" font-size="8.4" text-anchor="middle" fill="#222" transform="translate(338.62 343.75) scale(0.5)">0.58</text>
<text x="0" y="0" font-size="8.4" text-anchor="middle" fill="#222" transform="translate(338.62 348.95) scale(0.5)">(8e-04)</text>
<rect x="354.85" y="337.25" width="32.5" height="15.9" fill="#a0d280"/>
<text x="0" y="0" font-size="8.4" text-anchor="middle" fill="#222" transform="translate(371.07 343.75) scale(0.5)">-0.48</text>
<text x="0" y="0" font-size="8.4" text-anchor="middle" fill="#222" transform="translate(371.07 348.95) scale(0.5)">(0.007)</text>
<rect x="387.3" y="337.25" width="32.5" height="15.9" fill="#fef1f2"/>
<text x="0" y="0" font-size="8.4" text-anchor="middle" fill="#222" transform="translate(403.52 343.75) scale(0.5)">0.073</text>
<text x="0" y="0" font-size="8.4" text-anchor="middle" fill="#222" transform="translate(403.52 348.95) scale(0.5)">(0.7)</text>
<rect x="419.75" y="337.25" width="32.5" height="15.9" fill="#f8b3b7"/>
<text x="0" y="0" font-size="8.4" text-anchor="middle" fill="#222" transform="translate(435.98 343.75) scale(0.5)">0.34</text>
<text x="0" y="0" font-size="8.4" text-anchor="middle" fill="#222" transform="translate(435.98 348.95) scale(0.5)">(0.07)</text>
<rect x="452.2" y="337.25" width="32.5" height="15.9" fill="#c2e0b2"/>
<text x="0" y="0" font-size="8.4" text-anchor="middle" fill="#222" transform="translate(468.43 343.75) scale(0.5)">-0.31</text>
<text x="0" y="0" font-size="8.4" text-anchor="middle" fill="#222" transform="translate(468.43 348.95) scale(0.5)">(0.1)</text>
<rect x="311.8" y="353.1" width="9.3" height="15.9" fill="#e82028"/>
<text x="307.9" y="363.63" font-size="7.4" text-anchor="end" fill="#262626">Red</text>
<rect x="322.4" y="353.1" width="32.5" height="15.9" fill="#fcdadc"/>
<text x="0" y="0" font-size="8.4" text-anchor="middle" fill="#222" transform="translate(338.62 359.6) scale(0.5)">0.18</text>
<text x="0" y="0" font-size="8.4" text-anchor="middle" fill="#222" transform="translate(338.62 364.8) scale(0.5)">(0.3)</text>
<rect x="354.85" y="353.1" width="32.5" height="15.9" fill="#7bc144"/>
<text x="0" y="0" font-size="8.4" text-anchor="middle" fill="#222" transform="translate(371.07 359.6) scale(0.5)">-0.7</text>
<text x="0" y="0" font-size="8.4" text-anchor="middle" fill="#222" transform="translate(371.07 364.8) scale(0.5)">(3e-05)</text>
<rect x="387.3" y="353.1" width="32.5" height="15.9" fill="#f0757d"/>
<text x="0" y="0" font-size="8.4" text-anchor="middle" fill="#222" transform="translate(403.52 359.6) scale(0.5)">0.61</text>
<text x="0" y="0" font-size="8.4" text-anchor="middle" fill="#222" transform="translate(403.52 364.8) scale(0.5)">(3e-04)</text>
<rect x="419.75" y="353.1" width="32.5" height="15.9" fill="#ffffff"/>
<text x="0" y="0" font-size="8.4" text-anchor="middle" fill="#222" transform="translate(435.98 359.6) scale(0.5)">0.036</text>
<text x="0" y="0" font-size="8.4" text-anchor="middle" fill="#222" transform="translate(435.98 364.8) scale(0.5)">(0.9)</text>
<rect x="452.2" y="353.1" width="32.5" height="15.9" fill="#ecf5e8"/>
<text x="0" y="0" font-size="8.4" text-anchor="middle" fill="#222" transform="translate(468.43 359.6) scale(0.5)">-0.1</text>
<text x="0" y="0" font-size="8.4" text-anchor="middle" fill="#222" transform="translate(468.43 364.8) scale(0.5)">(0.6)</text>
<rect x="311.8" y="368.95" width="9.3" height="15.9" fill="#7a4fa8"/>
<text x="307.9" y="379.48" font-size="7.4" text-anchor="end" fill="#262626">Purple</text>
<rect x="322.4" y="368.95" width="32.5" height="15.9" fill="#bbddaa"/>
<text x="0" y="0" font-size="8.4" text-anchor="middle" fill="#222" transform="translate(338.62 375.45) scale(0.5)">-0.34</text>
<text x="0" y="0" font-size="8.4" text-anchor="middle" fill="#222" transform="translate(338.62 380.65) scale(0.5)">(0.06)</text>
<rect x="354.85" y="368.95" width="32.5" height="15.9" fill="#f39398"/>
<text x="0" y="0" font-size="8.4" text-anchor="middle" fill="#222" transform="translate(371.07 375.45) scale(0.5)">0.48</text>
<text x="0" y="0" font-size="8.4" text-anchor="middle" fill="#222" transform="translate(371.07 380.65) scale(0.5)">(0.008)</text>
<rect x="387.3" y="368.95" width="32.5" height="15.9" fill="#f9bdc1"/>
<text x="0" y="0" font-size="8.4" text-anchor="middle" fill="#222" transform="translate(403.52 375.45) scale(0.5)">0.3</text>
<text x="0" y="0" font-size="8.4" text-anchor="middle" fill="#222" transform="translate(403.52 380.65) scale(0.5)">(0.1)</text>
<rect x="419.75" y="368.95" width="32.5" height="15.9" fill="#a8d691"/>
<text x="0" y="0" font-size="8.4" text-anchor="middle" fill="#222" transform="translate(435.98 375.45) scale(0.5)">-0.43</text>
<text x="0" y="0" font-size="8.4" text-anchor="middle" fill="#222" transform="translate(435.98 380.65) scale(0.5)">(0.02)</text>
<rect x="452.2" y="368.95" width="32.5" height="15.9" fill="#bddead"/>
<text x="0" y="0" font-size="8.4" text-anchor="middle" fill="#222" transform="translate(468.43 375.45) scale(0.5)">-0.33</text>
<text x="0" y="0" font-size="8.4" text-anchor="middle" fill="#222" transform="translate(468.43 380.65) scale(0.5)">(0.08)</text>
<rect x="311.8" y="384.8" width="9.3" height="15.9" fill="#f08878"/>
<text x="307.9" y="395.33" font-size="7.4" text-anchor="end" fill="#262626">Salmon</text>
<rect x="322.4" y="384.8" width="32.5" height="15.9" fill="#d4e8ca"/>
<text x="0" y="0" font-size="8.4" text-anchor="middle" fill="#222" transform="translate(338.62 391.3) scale(0.5)">-0.22</text>
<text x="0" y="0" font-size="8.4" text-anchor="middle" fill="#222" transform="translate(338.62 396.5) scale(0.5)">(0.2)</text>
<rect x="354.85" y="384.8" width="32.5" height="15.9" fill="#fde8ea"/>
<text x="0" y="0" font-size="8.4" text-anchor="middle" fill="#222" transform="translate(371.07 391.3) scale(0.5)">0.12</text>
<text x="0" y="0" font-size="8.4" text-anchor="middle" fill="#222" transform="translate(371.07 396.5) scale(0.5)">(0.5)</text>
<rect x="387.3" y="384.8" width="32.5" height="15.9" fill="#eff7ec"/>
<text x="0" y="0" font-size="8.4" text-anchor="middle" fill="#222" transform="translate(403.52 391.3) scale(0.5)">-0.082</text>
<text x="0" y="0" font-size="8.4" text-anchor="middle" fill="#222" transform="translate(403.52 396.5) scale(0.5)">(0.7)</text>
<rect x="419.75" y="384.8" width="32.5" height="15.9" fill="#d8ead0"/>
<text x="0" y="0" font-size="8.4" text-anchor="middle" fill="#222" transform="translate(435.98 391.3) scale(0.5)">-0.2</text>
<text x="0" y="0" font-size="8.4" text-anchor="middle" fill="#222" transform="translate(435.98 396.5) scale(0.5)">(0.3)</text>
<rect x="452.2" y="384.8" width="32.5" height="15.9" fill="#f7b1b5"/>
<text x="0" y="0" font-size="8.4" text-anchor="middle" fill="#222" transform="translate(468.43 391.3) scale(0.5)">0.35</text>
<text x="0" y="0" font-size="8.4" text-anchor="middle" fill="#222" transform="translate(468.43 396.5) scale(0.5)">(0.06)</text>
<rect x="311.8" y="400.65" width="9.3" height="15.9" fill="#b050a8"/>
<text x="307.9" y="411.18" font-size="7.4" text-anchor="end" fill="#262626">Magenta</text>
<rect x="322.4" y="400.65" width="32.5" height="15.9" fill="#ffffff"/>
<text x="0" y="0" font-size="8.4" text-anchor="middle" fill="#222" transform="translate(338.62 407.15) scale(0.5)">-0.044</text>
<text x="0" y="0" font-size="8.4" text-anchor="middle" fill="#222" transform="translate(338.62 412.35) scale(0.5)">(0.8)</text>
<rect x="354.85" y="400.65" width="32.5" height="15.9" fill="#fde8ea"/>
<text x="0" y="0" font-size="8.4" text-anchor="middle" fill="#222" transform="translate(371.07 407.15) scale(0.5)">0.12</text>
<text x="0" y="0" font-size="8.4" text-anchor="middle" fill="#222" transform="translate(371.07 412.35) scale(0.5)">(0.5)</text>
<rect x="387.3" y="400.65" width="32.5" height="15.9" fill="#f9babe"/>
<text x="0" y="0" font-size="8.4" text-anchor="middle" fill="#222" transform="translate(403.52 407.15) scale(0.5)">0.31</text>
<text x="0" y="0" font-size="8.4" text-anchor="middle" fill="#222" transform="translate(403.52 412.35) scale(0.5)">(0.1)</text>
<rect x="419.75" y="400.65" width="32.5" height="15.9" fill="#e6f2e1"/>
<text x="0" y="0" font-size="8.4" text-anchor="middle" fill="#222" transform="translate(435.98 407.15) scale(0.5)">-0.13</text>
<text x="0" y="0" font-size="8.4" text-anchor="middle" fill="#222" transform="translate(435.98 412.35) scale(0.5)">(0.5)</text>
<rect x="452.2" y="400.65" width="32.5" height="15.9" fill="#aad795"/>
<text x="0" y="0" font-size="8.4" text-anchor="middle" fill="#222" transform="translate(468.43 407.15) scale(0.5)">-0.42</text>
<text x="0" y="0" font-size="8.4" text-anchor="middle" fill="#222" transform="translate(468.43 412.35) scale(0.5)">(0.02)</text>
<rect x="311.8" y="416.5" width="9.3" height="15.9" fill="#d8b890"/>
<text x="307.9" y="427.03" font-size="7.4" text-anchor="end" fill="#262626">Tan</text>
<rect x="322.4" y="416.5" width="32.5" height="15.9" fill="#f5faf3"/>
<text x="0" y="0" font-size="8.4" text-anchor="middle" fill="#222" transform="translate(338.62 423) scale(0.5)">-0.051</text>
<text x="0" y="0" font-size="8.4" text-anchor="middle" fill="#222" transform="translate(338.62 428.2) scale(0.5)">(0.8)</text>
<rect x="354.85" y="416.5" width="32.5" height="15.9" fill="#f2858c"/>
<text x="0" y="0" font-size="8.4" text-anchor="middle" fill="#222" transform="translate(371.07 423) scale(0.5)">0.54</text>
<text x="0" y="0" font-size="8.4" text-anchor="middle" fill="#222" transform="translate(371.07 428.2) scale(0.5)">(0.002)</text>
<rect x="387.3" y="416.5" width="32.5" height="15.9" fill="#fde3e5"/>
<text x="0" y="0" font-size="8.4" text-anchor="middle" fill="#222" transform="translate(403.52 423) scale(0.5)">0.14</text>
<text x="0" y="0" font-size="8.4" text-anchor="middle" fill="#222" transform="translate(403.52 428.2) scale(0.5)">(0.5)</text>
<rect x="419.75" y="416.5" width="32.5" height="15.9" fill="#c8e2ba"/>
<text x="0" y="0" font-size="8.4" text-anchor="middle" fill="#222" transform="translate(435.98 423) scale(0.5)">-0.28</text>
<text x="0" y="0" font-size="8.4" text-anchor="middle" fill="#222" transform="translate(435.98 428.2) scale(0.5)">(0.1)</text>
<rect x="452.2" y="416.5" width="32.5" height="15.9" fill="#8cc85a"/>
<text x="0" y="0" font-size="8.4" text-anchor="middle" fill="#222" transform="translate(468.43 423) scale(0.5)">-0.59</text>
<text x="0" y="0" font-size="8.4" text-anchor="middle" fill="#222" transform="translate(468.43 428.2) scale(0.5)">(5e-04)</text>
<rect x="311.8" y="432.35" width="9.3" height="15.9" fill="#111111"/>
<text x="307.9" y="442.88" font-size="7.4" text-anchor="end" fill="#262626">Black</text>
<rect x="322.4" y="432.35" width="32.5" height="15.9" fill="#d2e7c8"/>
<text x="0" y="0" font-size="8.4" text-anchor="middle" fill="#222" transform="translate(338.62 438.85) scale(0.5)">-0.23</text>
<text x="0" y="0" font-size="8.4" text-anchor="middle" fill="#222" transform="translate(338.62 444.05) scale(0.5)">(0.2)</text>
<rect x="354.85" y="432.35" width="32.5" height="15.9" fill="#ec2328"/>
<text x="0" y="0" font-size="8.4" text-anchor="middle" fill="#222" transform="translate(371.07 438.85) scale(0.5)">0.92</text>
<text x="0" y="0" font-size="8.4" text-anchor="middle" fill="#222" transform="translate(371.07 444.05) scale(0.5)">(8e-13)</text>
<rect x="387.3" y="432.35" width="32.5" height="15.9" fill="#b5dba2"/>
<text x="0" y="0" font-size="8.4" text-anchor="middle" fill="#222" transform="translate(403.52 438.85) scale(0.5)">-0.37</text>
<text x="0" y="0" font-size="8.4" text-anchor="middle" fill="#222" transform="translate(403.52 444.05) scale(0.5)">(0.04)</text>
<rect x="419.75" y="432.35" width="32.5" height="15.9" fill="#d8ead0"/>
<text x="0" y="0" font-size="8.4" text-anchor="middle" fill="#222" transform="translate(435.98 438.85) scale(0.5)">-0.2</text>
<text x="0" y="0" font-size="8.4" text-anchor="middle" fill="#222" transform="translate(435.98 444.05) scale(0.5)">(0.3)</text>
<rect x="452.2" y="432.35" width="32.5" height="15.9" fill="#bfdfb0"/>
<text x="0" y="0" font-size="8.4" text-anchor="middle" fill="#222" transform="translate(468.43 438.85) scale(0.5)">-0.32</text>
<text x="0" y="0" font-size="8.4" text-anchor="middle" fill="#222" transform="translate(468.43 444.05) scale(0.5)">(0.09)</text>
<rect x="311.8" y="448.2" width="9.3" height="15.9" fill="#50c8c8"/>
<text x="307.9" y="458.73" font-size="7.4" text-anchor="end" fill="#262626">Turquoise</text>
<rect x="322.4" y="448.2" width="32.5" height="15.9" fill="#e0efda"/>
<text x="0" y="0" font-size="8.4" text-anchor="middle" fill="#222" transform="translate(338.62 454.7) scale(0.5)">-0.16</text>
<text x="0" y="0" font-size="8.4" text-anchor="middle" fill="#222" transform="translate(338.62 459.9) scale(0.5)">(0.4)</text>
<rect x="354.85" y="448.2" width="32.5" height="15.9" fill="#ec282c"/>
<text x="0" y="0" font-size="8.4" text-anchor="middle" fill="#222" transform="translate(371.07 454.7) scale(0.5)">0.86</text>
<text x="0" y="0" font-size="8.4" text-anchor="middle" fill="#222" transform="translate(371.07 459.9) scale(0.5)">(1e-09)</text>
<rect x="387.3" y="448.2" width="32.5" height="15.9" fill="#a3d487"/>
<text x="0" y="0" font-size="8.4" text-anchor="middle" fill="#222" transform="translate(403.52 454.7) scale(0.5)">-0.46</text>
<text x="0" y="0" font-size="8.4" text-anchor="middle" fill="#222" transform="translate(403.52 459.9) scale(0.5)">(0.01)</text>
<rect x="419.75" y="448.2" width="32.5" height="15.9" fill="#ffffff"/>
<text x="0" y="0" font-size="8.4" text-anchor="middle" fill="#222" transform="translate(435.98 454.7) scale(0.5)">-0.038</text>
<text x="0" y="0" font-size="8.4" text-anchor="middle" fill="#222" transform="translate(435.98 459.9) scale(0.5)">(0.8)</text>
<rect x="452.2" y="448.2" width="32.5" height="15.9" fill="#bbddaa"/>
<text x="0" y="0" font-size="8.4" text-anchor="middle" fill="#222" transform="translate(468.43 454.7) scale(0.5)">-0.34</text>
<text x="0" y="0" font-size="8.4" text-anchor="middle" fill="#222" transform="translate(468.43 459.9) scale(0.5)">(0.07)</text>
<rect x="311.8" y="464.05" width="9.3" height="14.65" fill="#c0c0c0"/>
<text x="307.9" y="474.57" font-size="7.4" text-anchor="end" fill="#262626">Grey</text>
<rect x="322.4" y="464.05" width="32.5" height="14.65" fill="#e2f0dc"/>
<text x="0" y="0" font-size="8.4" text-anchor="middle" fill="#222" transform="translate(338.62 470.55) scale(0.5)">-0.15</text>
<text x="0" y="0" font-size="8.4" text-anchor="middle" fill="#222" transform="translate(338.62 475.75) scale(0.5)">(0.4)</text>
<rect x="354.85" y="464.05" width="32.5" height="14.65" fill="#f3f9f1"/>
<text x="0" y="0" font-size="8.4" text-anchor="middle" fill="#222" transform="translate(371.07 470.55) scale(0.5)">-0.06</text>
<text x="0" y="0" font-size="8.4" text-anchor="middle" fill="#222" transform="translate(371.07 475.75) scale(0.5)">(0.8)</text>
<rect x="387.3" y="464.05" width="32.5" height="14.65" fill="#ffffff"/>
<text x="0" y="0" font-size="8.4" text-anchor="middle" fill="#222" transform="translate(403.52 470.55) scale(0.5)">-0.0036</text>
<text x="0" y="0" font-size="8.4" text-anchor="middle" fill="#222" transform="translate(403.52 475.75) scale(0.5)">(1)</text>
<rect x="419.75" y="464.05" width="32.5" height="14.65" fill="#fcd7da"/>
<text x="0" y="0" font-size="8.4" text-anchor="middle" fill="#222" transform="translate(435.98 470.55) scale(0.5)">0.19</text>
<text x="0" y="0" font-size="8.4" text-anchor="middle" fill="#222" transform="translate(435.98 475.75) scale(0.5)">(0.3)</text>
<rect x="452.2" y="464.05" width="32.5" height="14.65" fill="#ffffff"/>
<text x="0" y="0" font-size="8.4" text-anchor="middle" fill="#222" transform="translate(468.43 470.55) scale(0.5)">0.027</text>
<text x="0" y="0" font-size="8.4" text-anchor="middle" fill="#222" transform="translate(468.43 475.75) scale(0.5)">(0.9)</text>
<rect x="322.6" y="257.3" width="162.0" height="221.8" fill="none" stroke="#333" stroke-width="1.15"/>
<rect x="355.6" y="431.7" width="32.6" height="33.4" fill="none" stroke="#222" stroke-width="1.2"/>
<text x="338.12" y="489.6" font-size="7.6" text-anchor="middle" fill="#262626">CMP</text>
<text x="370.57" y="489.6" font-size="7.6" text-anchor="middle" fill="#262626">EB</text>
<text x="403.02" y="489.6" font-size="7.6" text-anchor="middle" fill="#262626">HSC</text>
<text x="435.48" y="489.6" font-size="7.6" text-anchor="middle" fill="#262626">MEP</text>
<text x="467.93" y="489.6" font-size="7.6" text-anchor="middle" fill="#262626">MPP</text>
<defs><linearGradient id="cb" x1="0" y1="0" x2="0" y2="1"><stop offset="0" stop-color="#ec1c22"/><stop offset="0.04" stop-color="#ec2328"/><stop offset="0.07" stop-color="#ec282c"/><stop offset="0.16" stop-color="#ed646c"/><stop offset="0.2" stop-color="#f07880"/><stop offset="0.29" stop-color="#f5a0a4"/><stop offset="0.36" stop-color="#fac4c8"/><stop offset="0.44" stop-color="#fde8ea"/><stop offset="0.5" stop-color="#ffffff"/><stop offset="0.57" stop-color="#e2f0dc"/><stop offset="0.6" stop-color="#d8ead0"/><stop offset="0.64" stop-color="#c8e2ba"/><stop offset="0.7" stop-color="#acd898"/><stop offset="0.79" stop-color="#8cc85a"/><stop offset="0.84" stop-color="#7cc144"/><stop offset="1" stop-color="#66bb44"/></linearGradient></defs>
<rect x="488.3" y="270.5" width="4.6" height="195.2" fill="url(#cb)" stroke="#222" stroke-width="0.8"/>
<line x1="492.9" y1="270.5" x2="496.5" y2="270.5" stroke="#333" stroke-width="0.7"/>
<text x="498.3" y="273" font-size="7" text-anchor="start" fill="#262626">1</text>
<line x1="492.9" y1="319.3" x2="496.5" y2="319.3" stroke="#333" stroke-width="0.7"/>
<text x="498.3" y="321.8" font-size="7" text-anchor="start" fill="#262626">0.5</text>
<line x1="492.9" y1="368.1" x2="496.5" y2="368.1" stroke="#333" stroke-width="0.7"/>
<text x="498.3" y="370.6" font-size="7" text-anchor="start" fill="#262626">0</text>
<line x1="492.9" y1="416.9" x2="496.5" y2="416.9" stroke="#333" stroke-width="0.7"/>
<text x="498.3" y="419.4" font-size="7" text-anchor="start" fill="#262626">&#8722;0.5</text>
<line x1="492.9" y1="465.7" x2="496.5" y2="465.7" stroke="#333" stroke-width="0.7"/>
<text x="498.3" y="468.2" font-size="7" text-anchor="start" fill="#262626">&#8722;1</text>
<text x="5.8" y="258.6" font-size="11" text-anchor="start" fill="#000" font-weight="bold">E</text>
<line x1="70.6" y1="266.4" x2="70.6" y2="352.6" stroke="#222" stroke-width="0.9"/>
<line x1="70.2" y1="352.5" x2="208" y2="352.5" stroke="#222" stroke-width="0.9"/>
<line x1="66.3" y1="348.8" x2="70.6" y2="348.8" stroke="#222" stroke-width="0.8"/>
<text x="63.6" y="351.3" font-size="7.2" text-anchor="end" fill="#262626">0</text>
<line x1="66.3" y1="328.46" x2="70.6" y2="328.46" stroke="#222" stroke-width="0.8"/>
<text x="63.6" y="330.96" font-size="7.2" text-anchor="end" fill="#262626">200</text>
<line x1="66.3" y1="308.12" x2="70.6" y2="308.12" stroke="#222" stroke-width="0.8"/>
<text x="63.6" y="310.62" font-size="7.2" text-anchor="end" fill="#262626">400</text>
<line x1="66.3" y1="287.78" x2="70.6" y2="287.78" stroke="#222" stroke-width="0.8"/>
<text x="63.6" y="290.28" font-size="7.2" text-anchor="end" fill="#262626">600</text>
<line x1="86" y1="352.5" x2="86" y2="355.5" stroke="#222" stroke-width="0.8"/>
<line x1="112.6" y1="352.5" x2="112.6" y2="355.5" stroke="#222" stroke-width="0.8"/>
<line x1="139.3" y1="352.5" x2="139.3" y2="355.5" stroke="#222" stroke-width="0.8"/>
<line x1="166" y1="352.5" x2="166" y2="355.5" stroke="#222" stroke-width="0.8"/>
<line x1="192.5" y1="352.5" x2="192.5" y2="355.5" stroke="#222" stroke-width="0.8"/>
<text x="86.5" y="363.9" font-size="7.7" text-anchor="middle" fill="#262626">HSC</text>
<text x="112.2" y="363.9" font-size="7.7" text-anchor="middle" fill="#262626">MPP</text>
<text x="137.3" y="363.9" font-size="7.7" text-anchor="middle" fill="#262626">CMP</text>
<text x="162.4" y="363.9" font-size="7.7" text-anchor="middle" fill="#262626">MEP</text>
<text x="190.6" y="363.9" font-size="7.7" text-anchor="middle" fill="#262626">EB</text>
<text x="0" y="0" font-size="8.4" text-anchor="middle" fill="#262626" stroke="#262626" stroke-width="0.3" transform="translate(47.9 311.3) rotate(-90) scale(0.715 1)">Expression</text>
<polyline points="86,348.8 112.6,348.5 139.3,348.1 166,347.3 192.5,342.7" fill="none" stroke="#f6a03a" stroke-width="1.2"/>
<circle cx="86" cy="348.8" r="0.8" fill="#f6a03a" stroke="#f6a03a" stroke-width="0.2"/>
<circle cx="112.6" cy="348.5" r="0.8" fill="#f6a03a" stroke="#f6a03a" stroke-width="0.2"/>
<circle cx="139.3" cy="348.1" r="0.8" fill="#f6a03a" stroke="#f6a03a" stroke-width="0.2"/>
<circle cx="166" cy="347.3" r="0.8" fill="#f6a03a" stroke="#f6a03a" stroke-width="0.2"/>
<circle cx="192.5" cy="342.7" r="0.8" fill="#f6a03a" stroke="#f6a03a" stroke-width="0.2"/>
<polyline points="86,347.5 112.6,347.1 139.3,346.9 166,345.7 192.5,336.2" fill="none" stroke="#7b3b98" stroke-width="1.2"/>
<circle cx="86" cy="347.5" r="0.8" fill="#7b3b98" stroke="#7b3b98" stroke-width="0.2"/>
<circle cx="112.6" cy="347.1" r="0.8" fill="#7b3b98" stroke="#7b3b98" stroke-width="0.2"/>
<circle cx="139.3" cy="346.9" r="0.8" fill="#7b3b98" stroke="#7b3b98" stroke-width="0.2"/>
<circle cx="166" cy="345.7" r="0.8" fill="#7b3b98" stroke="#7b3b98" stroke-width="0.2"/>
<circle cx="192.5" cy="336.2" r="0.8" fill="#7b3b98" stroke="#7b3b98" stroke-width="0.2"/>
<polyline points="86,342.4 112.6,343 139.3,341.7 166,339.6 192.5,317" fill="none" stroke="#3fb34f" stroke-width="1.2"/>
<circle cx="86" cy="342.4" r="0.8" fill="#3fb34f" stroke="#3fb34f" stroke-width="0.2"/>
<circle cx="112.6" cy="343" r="0.8" fill="#3fb34f" stroke="#3fb34f" stroke-width="0.2"/>
<circle cx="139.3" cy="341.7" r="0.8" fill="#3fb34f" stroke="#3fb34f" stroke-width="0.2"/>
<circle cx="166" cy="339.6" r="0.8" fill="#3fb34f" stroke="#3fb34f" stroke-width="0.2"/>
<circle cx="192.5" cy="317" r="0.8" fill="#3fb34f" stroke="#3fb34f" stroke-width="0.2"/>
<polyline points="86,340.3 112.6,343.7 139.3,335.8 166,334 192.5,297" fill="none" stroke="#2b6aa6" stroke-width="1.2"/>
<circle cx="86" cy="340.3" r="0.8" fill="#2b6aa6" stroke="#2b6aa6" stroke-width="0.2"/>
<circle cx="112.6" cy="343.7" r="0.8" fill="#2b6aa6" stroke="#2b6aa6" stroke-width="0.2"/>
<circle cx="139.3" cy="335.8" r="0.8" fill="#2b6aa6" stroke="#2b6aa6" stroke-width="0.2"/>
<circle cx="166" cy="334" r="0.8" fill="#2b6aa6" stroke="#2b6aa6" stroke-width="0.2"/>
<circle cx="192.5" cy="297" r="0.8" fill="#2b6aa6" stroke="#2b6aa6" stroke-width="0.2"/>
<polyline points="86,339.2 112.6,346.4 139.3,342.8 166,334.3 192.5,276" fill="none" stroke="#d21f3c" stroke-width="1.2"/>
<circle cx="86" cy="339.2" r="0.8" fill="#d21f3c" stroke="#d21f3c" stroke-width="0.2"/>
<circle cx="112.6" cy="346.4" r="0.8" fill="#d21f3c" stroke="#d21f3c" stroke-width="0.2"/>
<circle cx="139.3" cy="342.8" r="0.8" fill="#d21f3c" stroke="#d21f3c" stroke-width="0.2"/>
<circle cx="166" cy="334.3" r="0.8" fill="#d21f3c" stroke="#d21f3c" stroke-width="0.2"/>
<circle cx="192.5" cy="276" r="0.8" fill="#d21f3c" stroke="#d21f3c" stroke-width="0.2"/>
<text x="180" y="274.9" font-size="7.6" text-anchor="start" fill="#d21f3c">CKS1B</text>
<text x="187.8" y="295.6" font-size="7.6" text-anchor="start" fill="#2b6aa6">HNRNPF</text>
<text x="184.6" y="315.6" font-size="7.6" text-anchor="start" fill="#3fb34f">RPA2</text>
<text x="181.5" y="333.9" font-size="7.6" text-anchor="start" fill="#7b3b98">PPIL1</text>
<text x="183" y="350.4" font-size="7.6" text-anchor="start" fill="#f6a03a">CDC45</text>
<text x="5.3" y="372.8" font-size="11" text-anchor="start" fill="#000" font-weight="bold">F</text>
<line x1="70.5" y1="371.4" x2="70.5" y2="390" stroke="#222" stroke-width="0.9"/>
<line x1="70.5" y1="398.4" x2="70.5" y2="479.8" stroke="#222" stroke-width="0.9"/>
<line x1="68" y1="395.3" x2="72.2" y2="391.1" stroke="#222" stroke-width="0.8"/>
<line x1="69.2" y1="397.5" x2="73.6" y2="392.9" stroke="#222" stroke-width="0.8"/>
<line x1="70.1" y1="479.4" x2="210.3" y2="479.4" stroke="#222" stroke-width="0.9"/>
<line x1="68" y1="382.3" x2="70.5" y2="382.3" stroke="#222" stroke-width="0.8"/>
<text x="66.2" y="384.8" font-size="7.2" text-anchor="end" fill="#262626">150000</text>
<line x1="68" y1="475.4" x2="70.5" y2="475.4" stroke="#222" stroke-width="0.8"/>
<text x="66.2" y="477.9" font-size="7.2" text-anchor="end" fill="#262626">0</text>
<line x1="68" y1="460.94" x2="70.5" y2="460.94" stroke="#222" stroke-width="0.8"/>
<text x="66.2" y="463.44" font-size="7.2" text-anchor="end" fill="#262626">100</text>
<line x1="68" y1="446.48" x2="70.5" y2="446.48" stroke="#222" stroke-width="0.8"/>
<text x="66.2" y="448.98" font-size="7.2" text-anchor="end" fill="#262626">200</text>
<line x1="68" y1="432.02" x2="70.5" y2="432.02" stroke="#222" stroke-width="0.8"/>
<text x="66.2" y="434.52" font-size="7.2" text-anchor="end" fill="#262626">300</text>
<line x1="68" y1="417.56" x2="70.5" y2="417.56" stroke="#222" stroke-width="0.8"/>
<text x="66.2" y="420.06" font-size="7.2" text-anchor="end" fill="#262626">400</text>
<line x1="68" y1="403.1" x2="70.5" y2="403.1" stroke="#222" stroke-width="0.8"/>
<text x="66.2" y="405.6" font-size="7.2" text-anchor="end" fill="#262626">500</text>
<line x1="86.6" y1="479.4" x2="86.6" y2="482.6" stroke="#222" stroke-width="0.8"/>
<line x1="113.5" y1="479.4" x2="113.5" y2="482.6" stroke="#222" stroke-width="0.8"/>
<line x1="140.3" y1="479.4" x2="140.3" y2="482.6" stroke="#222" stroke-width="0.8"/>
<line x1="167" y1="479.4" x2="167" y2="482.6" stroke="#222" stroke-width="0.8"/>
<line x1="194.2" y1="479.4" x2="194.2" y2="482.6" stroke="#222" stroke-width="0.8"/>
<text x="84.2" y="491.2" font-size="8" text-anchor="middle" fill="#262626">HSC</text>
<text x="109.7" y="491.2" font-size="8" text-anchor="middle" fill="#262626">MPP</text>
<text x="139" y="491.2" font-size="8" text-anchor="middle" fill="#262626">CMP</text>
<text x="164.6" y="491.2" font-size="8" text-anchor="middle" fill="#262626">MEP</text>
<text x="193" y="491.2" font-size="8" text-anchor="middle" fill="#262626">EB</text>
<text x="0" y="0" font-size="8.4" text-anchor="middle" fill="#262626" stroke="#262626" stroke-width="0.3" transform="translate(44.1 431.3) rotate(-90) scale(0.715 1)">Expression</text>
<polyline points="86.6,474.8 113.5,474.6 140.3,474.3 167,473.8 194.2,468" fill="none" stroke="#c08848" stroke-width="0.8"/>
<circle cx="86.6" cy="474.8" r="0.7" fill="#c08848" stroke="#c08848" stroke-width="0.2"/>
<circle cx="113.5" cy="474.6" r="0.7" fill="#c08848" stroke="#c08848" stroke-width="0.2"/>
<circle cx="140.3" cy="474.3" r="0.7" fill="#c08848" stroke="#c08848" stroke-width="0.2"/>
<circle cx="167" cy="473.8" r="0.7" fill="#c08848" stroke="#c08848" stroke-width="0.2"/>
<circle cx="194.2" cy="468" r="0.7" fill="#c08848" stroke="#c08848" stroke-width="0.2"/>
<polyline points="86.6,474 113.5,474 140.3,473.8 167,473 194.2,464.1" fill="none" stroke="#e840a0" stroke-width="0.8"/>
<circle cx="86.6" cy="474" r="0.7" fill="#e840a0" stroke="#e840a0" stroke-width="0.2"/>
<circle cx="113.5" cy="474" r="0.7" fill="#e840a0" stroke="#e840a0" stroke-width="0.2"/>
<circle cx="140.3" cy="473.8" r="0.7" fill="#e840a0" stroke="#e840a0" stroke-width="0.2"/>
<circle cx="167" cy="473" r="0.7" fill="#e840a0" stroke="#e840a0" stroke-width="0.2"/>
<circle cx="194.2" cy="464.1" r="0.7" fill="#e840a0" stroke="#e840a0" stroke-width="0.2"/>
<polyline points="86.6,474.5 113.5,474.2 140.3,474 167,473.5 194.2,467" fill="none" stroke="#a6a35a" stroke-width="0.8"/>
<circle cx="86.6" cy="474.5" r="0.7" fill="#a6a35a" stroke="#a6a35a" stroke-width="0.2"/>
<circle cx="113.5" cy="474.2" r="0.7" fill="#a6a35a" stroke="#a6a35a" stroke-width="0.2"/>
<circle cx="140.3" cy="474" r="0.7" fill="#a6a35a" stroke="#a6a35a" stroke-width="0.2"/>
<circle cx="167" cy="473.5" r="0.7" fill="#a6a35a" stroke="#a6a35a" stroke-width="0.2"/>
<circle cx="194.2" cy="467" r="0.7" fill="#a6a35a" stroke="#a6a35a" stroke-width="0.2"/>
<polyline points="86.6,474.2 113.5,474 140.3,473.6 167,472.8 194.2,462.2" fill="none" stroke="#30b8e8" stroke-width="0.8"/>
<circle cx="86.6" cy="474.2" r="0.7" fill="#30b8e8" stroke="#30b8e8" stroke-width="0.2"/>
<circle cx="113.5" cy="474" r="0.7" fill="#30b8e8" stroke="#30b8e8" stroke-width="0.2"/>
<circle cx="140.3" cy="473.6" r="0.7" fill="#30b8e8" stroke="#30b8e8" stroke-width="0.2"/>
<circle cx="167" cy="472.8" r="0.7" fill="#30b8e8" stroke="#30b8e8" stroke-width="0.2"/>
<circle cx="194.2" cy="462.2" r="0.7" fill="#30b8e8" stroke="#30b8e8" stroke-width="0.2"/>
<polyline points="86.6,473.8 113.5,473.6 140.3,473.2 167,472.2 194.2,460" fill="none" stroke="#3a9a60" stroke-width="0.8"/>
<circle cx="86.6" cy="473.8" r="0.7" fill="#3a9a60" stroke="#3a9a60" stroke-width="0.2"/>
<circle cx="113.5" cy="473.6" r="0.7" fill="#3a9a60" stroke="#3a9a60" stroke-width="0.2"/>
<circle cx="140.3" cy="473.2" r="0.7" fill="#3a9a60" stroke="#3a9a60" stroke-width="0.2"/>
<circle cx="167" cy="472.2" r="0.7" fill="#3a9a60" stroke="#3a9a60" stroke-width="0.2"/>
<circle cx="194.2" cy="460" r="0.7" fill="#3a9a60" stroke="#3a9a60" stroke-width="0.2"/>
<polyline points="86.6,473.5 113.5,472 140.3,473 167,471.5 194.2,458" fill="none" stroke="#22306a" stroke-width="0.8"/>
<circle cx="86.6" cy="473.5" r="0.7" fill="#22306a" stroke="#22306a" stroke-width="0.2"/>
<circle cx="113.5" cy="472" r="0.7" fill="#22306a" stroke="#22306a" stroke-width="0.2"/>
<circle cx="140.3" cy="473" r="0.7" fill="#22306a" stroke="#22306a" stroke-width="0.2"/>
<circle cx="167" cy="471.5" r="0.7" fill="#22306a" stroke="#22306a" stroke-width="0.2"/>
<circle cx="194.2" cy="458" r="0.7" fill="#22306a" stroke="#22306a" stroke-width="0.2"/>
<polyline points="86.6,473.6 113.5,473.4 140.3,473.1 167,472 194.2,456.8" fill="none" stroke="#9080c0" stroke-width="0.8"/>
<circle cx="86.6" cy="473.6" r="0.7" fill="#9080c0" stroke="#9080c0" stroke-width="0.2"/>
<circle cx="113.5" cy="473.4" r="0.7" fill="#9080c0" stroke="#9080c0" stroke-width="0.2"/>
<circle cx="140.3" cy="473.1" r="0.7" fill="#9080c0" stroke="#9080c0" stroke-width="0.2"/>
<circle cx="167" cy="472" r="0.7" fill="#9080c0" stroke="#9080c0" stroke-width="0.2"/>
<circle cx="194.2" cy="456.8" r="0.7" fill="#9080c0" stroke="#9080c0" stroke-width="0.2"/>
<polyline points="86.6,473 113.5,472.6 140.3,472.8 167,471 194.2,455" fill="none" stroke="#8060a0" stroke-width="0.8"/>
<circle cx="86.6" cy="473" r="0.7" fill="#8060a0" stroke="#8060a0" stroke-width="0.2"/>
<circle cx="113.5" cy="472.6" r="0.7" fill="#8060a0" stroke="#8060a0" stroke-width="0.2"/>
<circle cx="140.3" cy="472.8" r="0.7" fill="#8060a0" stroke="#8060a0" stroke-width="0.2"/>
<circle cx="167" cy="471" r="0.7" fill="#8060a0" stroke="#8060a0" stroke-width="0.2"/>
<circle cx="194.2" cy="455" r="0.7" fill="#8060a0" stroke="#8060a0" stroke-width="0.2"/>
<polyline points="86.6,471.9 113.5,470.4 140.3,471.9 167,470 194.2,453.2" fill="none" stroke="#6a4a8a" stroke-width="0.8"/>
<circle cx="86.6" cy="471.9" r="0.7" fill="#6a4a8a" stroke="#6a4a8a" stroke-width="0.2"/>
<circle cx="113.5" cy="470.4" r="0.7" fill="#6a4a8a" stroke="#6a4a8a" stroke-width="0.2"/>
<circle cx="140.3" cy="471.9" r="0.7" fill="#6a4a8a" stroke="#6a4a8a" stroke-width="0.2"/>
<circle cx="167" cy="470" r="0.7" fill="#6a4a8a" stroke="#6a4a8a" stroke-width="0.2"/>
<circle cx="194.2" cy="453.2" r="0.7" fill="#6a4a8a" stroke="#6a4a8a" stroke-width="0.2"/>
<polyline points="86.6,473.2 113.5,472.8 140.3,472.3 167,471.2 194.2,434.3" fill="none" stroke="#3fb34f" stroke-width="1.2"/>
<circle cx="86.6" cy="473.2" r="0.7" fill="#3fb34f" stroke="#3fb34f" stroke-width="0.2"/>
<circle cx="113.5" cy="472.8" r="0.7" fill="#3fb34f" stroke="#3fb34f" stroke-width="0.2"/>
<circle cx="140.3" cy="472.3" r="0.7" fill="#3fb34f" stroke="#3fb34f" stroke-width="0.2"/>
<circle cx="167" cy="471.2" r="0.7" fill="#3fb34f" stroke="#3fb34f" stroke-width="0.2"/>
<circle cx="194.2" cy="434.3" r="0.7" fill="#3fb34f" stroke="#3fb34f" stroke-width="0.2"/>
<polyline points="86.6,472.5 113.5,471.5 140.3,472 167,470.5 194.2,417.2" fill="none" stroke="#2b6aa6" stroke-width="1.2"/>
<circle cx="86.6" cy="472.5" r="0.7" fill="#2b6aa6" stroke="#2b6aa6" stroke-width="0.2"/>
<circle cx="113.5" cy="471.5" r="0.7" fill="#2b6aa6" stroke="#2b6aa6" stroke-width="0.2"/>
<circle cx="140.3" cy="472" r="0.7" fill="#2b6aa6" stroke="#2b6aa6" stroke-width="0.2"/>
<circle cx="167" cy="470.5" r="0.7" fill="#2b6aa6" stroke="#2b6aa6" stroke-width="0.2"/>
<circle cx="194.2" cy="417.2" r="0.7" fill="#2b6aa6" stroke="#2b6aa6" stroke-width="0.2"/>
<polyline points="86.6,469.4 113.5,464.8 140.3,468 167,465.6 194.2,403.3" fill="none" stroke="#d83040" stroke-width="1.2"/>
<circle cx="86.6" cy="469.4" r="0.7" fill="#d83040" stroke="#d83040" stroke-width="0.2"/>
<circle cx="113.5" cy="464.8" r="0.7" fill="#d83040" stroke="#d83040" stroke-width="0.2"/>
<circle cx="140.3" cy="468" r="0.7" fill="#d83040" stroke="#d83040" stroke-width="0.2"/>
<circle cx="167" cy="465.6" r="0.7" fill="#d83040" stroke="#d83040" stroke-width="0.2"/>
<circle cx="194.2" cy="403.3" r="0.7" fill="#d83040" stroke="#d83040" stroke-width="0.2"/>
<circle cx="195.1" cy="384.4" r="0.9" fill="#3a80c8" stroke="#3a80c8" stroke-width="0.2"/>
<text x="177" y="383.7" font-size="6.1" text-anchor="start" fill="#4a90d0">HBG2</text>
<text x="171.6" y="406" font-size="5.8" text-anchor="start" fill="#d83040">EIF1AY</text>
<text x="193" y="416" font-size="5.8" text-anchor="start" fill="#2b6aa6">NUSAP1</text>
<text x="191.5" y="431.4" font-size="6" text-anchor="start" fill="#3fb34f">FECH</text>
<text x="189.5" y="450.8" font-size="5.2" text-anchor="start" fill="#6a4a8a">MAD2L1BP</text>
<text x="172.2" y="457.5" font-size="5.2" text-anchor="start" fill="#8060a0" stroke="#ffffff" stroke-width="0.9" paint-order="stroke" stroke-opacity="0.85">PPME1</text>
<text x="196.2" y="457.8" font-size="4" text-anchor="start" fill="#9a8ac8">FCGR2A</text>
<text x="169.2" y="463.5" font-size="4.2" text-anchor="start" fill="#3a8a60" stroke="#ffffff" stroke-width="0.9" paint-order="stroke" stroke-opacity="0.85">ATP6V0E</text>
<text x="196.7" y="463.8" font-size="4.2" text-anchor="start" fill="#30b8e8">PNP</text>
<text x="196.7" y="468.8" font-size="4.2" text-anchor="start" fill="#e840a0">ERMAP</text>
<text x="172.9" y="469.4" font-size="4.3" text-anchor="start" fill="#a8a860" stroke="#ffffff" stroke-width="0.9" paint-order="stroke" stroke-opacity="0.85">CA1</text>
<text x="185.6" y="476" font-size="5" text-anchor="start" fill="#c08848">PIP5K1B</text>
<rect x="0.5" y="0.5" width="519" height="497" fill="none" stroke="#111" stroke-width="1.2"/>
<rect x="0" y="496.6" width="520" height="1.4" fill="#111"/>
</svg>
</body></html>
